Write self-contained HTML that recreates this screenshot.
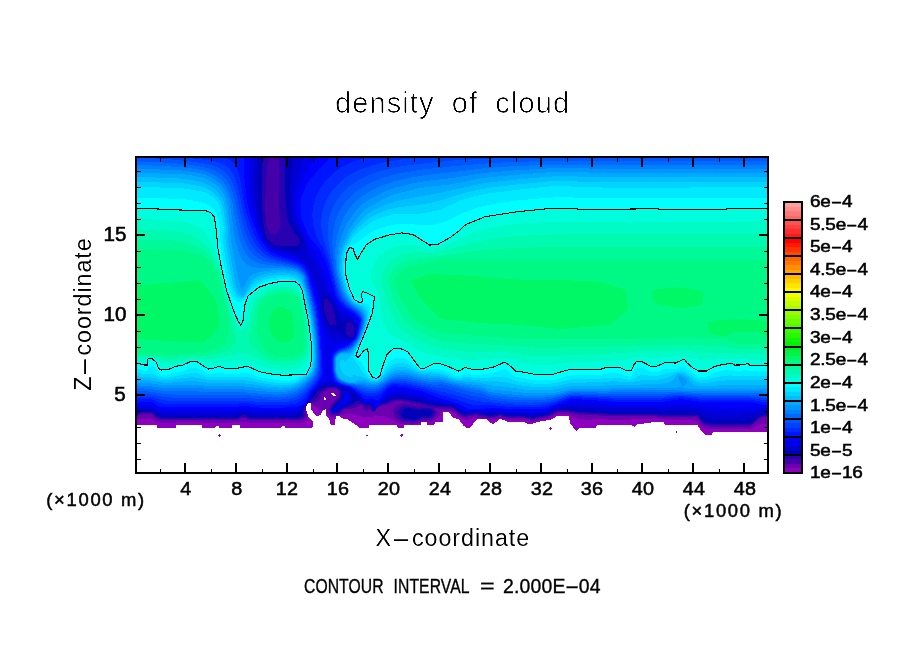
<!DOCTYPE html>
<html><head><meta charset="utf-8"><title>density of cloud</title>
<style>
html,body{margin:0;padding:0;background:#fff;}
body{width:904px;height:654px;position:relative;overflow:hidden;font-family:"Liberation Sans",sans-serif;color:#000;}
.t{position:absolute;white-space:nowrap;line-height:1;filter:grayscale(1) contrast(2.2);}
</style></head><body>
<svg width="904" height="654" viewBox="0 0 904 654" shape-rendering="crispEdges" style="position:absolute;left:0;top:0">
<g id="fld"><path fill="#8c00be" d="M136 157h632v236h-632zM334 393h434v1h-434zM136 393h195v1h-195zM335 394h433v1h-433zM136 394h196v1h-196zM336 395h432v1h-432zM136 395h197v1h-197zM136 396h632v1h-632zM325 397h443v1h-443zM136 397h188v3h-188zM326 398h442v2h-442zM136 400h632v3h-632zM136 403h172v1h-172zM136 404h171v2h-171zM311 403h457v6h-457zM311 409h14v1h-14zM136 406h170v5h-170zM312 410h11v1h-11zM326 409h442v3h-442zM313 411h9v2h-9zM449 412h319v1h-319zM136 411h171v3h-171zM450 413h318v1h-318zM314 413h7v1h-7zM315 414h6v1h-6zM326 412h117v4h-117zM451 414h317v2h-317zM316 415h3v1h-3zM136 414h172v3h-172zM327 416h9v1h-9zM340 416h103v1h-103zM452 416h104v1h-104zM328 417h8v1h-8zM136 417h173v1h-173zM341 417h102v1h-102zM453 417h102v1h-102zM343 418h100v1h-100zM136 418h174v1h-174zM329 418h7v1h-7zM456 418h97v1h-97zM569 416h199v4h-199zM348 419h95v1h-95zM502 419h49v1h-49zM487 419h12v1h-12zM459 419h18v1h-18zM136 419h175v1h-175zM329 419h6v1h-6zM460 420h16v1h-16zM136 420h176v1h-176zM488 420h10v1h-10zM349 420h94v1h-94zM505 420h41v1h-41zM570 420h198v2h-198zM489 421h8v1h-8zM507 421h33v1h-33zM460 421h15v1h-15zM351 421h92v1h-92zM490 422h5v1h-5zM570 422h81v1h-81zM461 422h13v1h-13zM352 422h69v1h-69zM525 422h11v1h-11zM330 420h5v4h-5zM427 422h8v2h-8zM664 422h104v2h-104zM462 423h11v1h-11zM570 423h74v1h-74zM492 423h2v1h-2zM527 423h6v1h-6zM354 423h67v1h-67zM136 421h177v4h-177zM355 424h66v1h-66zM331 424h4v1h-4zM427 424h7v1h-7zM571 424h66v1h-66zM463 424h10v1h-10zM665 424h103v1h-103zM572 425h25v1h-25zM240 425h73v1h-73zM202 425h30v1h-30zM632 425h4v1h-4zM357 425h12v1h-12zM463 425h9v1h-9zM397 425h7v2h-7zM698 425h70v2h-70zM465 426h6v1h-6zM285 426h28v1h-28zM202 426h14v1h-14zM634 426h1v1h-1zM240 426h42v1h-42zM358 426h11v1h-11zM157 425h19v3h-19zM219 426h13v2h-13zM573 426h23v2h-23zM359 427h10v1h-10zM240 427h41v1h-41zM466 427h4v1h-4zM699 427h69v1h-69zM285 427h27v1h-27zM398 427h6v1h-6zM202 427h13v1h-13zM574 428h5v1h-5zM700 428h68v2h-68zM575 429h3v1h-3zM576 430h1v1h-1zM701 430h67v1h-67zM702 431h66v1h-66zM703 432h10v1h-10zM704 433h8v1h-8zM705 434h7v1h-7z"/>
<path fill="#6c00b0" d="M136 157h632v236h-632zM334 393h434v1h-434zM136 393h195v1h-195zM335 394h433v1h-433zM136 394h196v1h-196zM336 395h432v1h-432zM136 395h197v1h-197zM136 396h632v1h-632zM325 397h443v1h-443zM136 397h188v3h-188zM326 398h442v2h-442zM136 400h632v3h-632zM136 403h172v1h-172zM311 403h457v1h-457zM312 404h456v1h-456zM136 404h171v2h-171zM313 405h455v1h-455zM315 406h453v1h-453zM316 407h452v1h-452zM318 408h450v1h-450zM319 409h6v1h-6zM136 406h170v5h-170zM326 409h442v2h-442zM326 411h116v1h-116zM452 411h316v1h-316zM453 412h315v1h-315zM326 412h115v1h-115zM136 411h171v3h-171zM327 413h113v1h-113zM455 413h313v1h-313zM355 414h85v1h-85zM328 414h17v1h-17zM456 414h101v1h-101zM569 414h199v1h-199zM329 415h11v1h-11zM457 415h97v1h-97zM571 415h197v1h-197zM359 415h81v1h-81zM136 414h172v3h-172zM573 416h195v1h-195zM385 416h54v1h-54zM330 416h6v1h-6zM362 416h11v1h-11zM459 416h94v1h-94zM387 417h51v1h-51zM575 417h193v1h-193zM460 417h91v1h-91zM136 417h171v2h-171zM502 418h46v1h-46zM462 418h10v1h-10zM578 418h190v1h-190zM481 418h17v1h-17zM389 418h48v1h-48zM465 419h3v1h-3zM152 419h155v1h-155zM608 419h23v1h-23zM136 419h2v1h-2zM584 419h8v1h-8zM665 419h103v1h-103zM391 419h45v1h-45zM506 419h37v1h-37zM487 419h7v1h-7zM693 420h75v1h-75zM393 420h41v1h-41zM154 420h152v1h-152zM525 420h13v1h-13zM156 421h149v1h-149zM530 421h4v1h-4zM697 421h71v1h-71zM395 421h37v1h-37zM698 422h70v1h-70zM160 422h15v1h-15zM247 422h55v1h-55zM203 422h28v1h-28zM397 422h24v1h-24zM699 423h67v1h-67zM399 423h19v1h-19zM410 424h3v1h-3zM700 424h61v1h-61zM701 425h57v1h-57zM702 426h54v1h-54zM703 427h51v1h-51zM706 428h46v1h-46z"/>
<path fill="#4600aa" d="M136 157h632v231h-632zM136 388h193v1h-193zM332 388h436v1h-436zM337 389h431v1h-431zM136 389h191v1h-191zM338 390h430v1h-430zM136 390h190v1h-190zM136 391h188v1h-188zM136 392h187v2h-187zM136 394h186v1h-186zM339 391h429v6h-429zM136 395h185v3h-185zM338 397h430v1h-430zM337 398h431v1h-431zM136 398h184v2h-184zM336 399h432v1h-432zM136 400h183v1h-183zM335 400h433v1h-433zM136 401h182v1h-182zM403 401h365v1h-365zM334 401h61v1h-61zM407 402h361v1h-361zM333 402h59v1h-59zM136 402h180v1h-180zM410 403h358v1h-358zM332 403h58v1h-58zM136 403h172v1h-172zM402 403h4v1h-4zM416 404h352v1h-352zM331 404h57v1h-57zM398 404h15v1h-15zM136 404h171v2h-171zM420 405h348v1h-348zM396 405h22v1h-22zM362 405h20v1h-20zM331 405h29v1h-29zM395 406h373v1h-373zM330 406h28v1h-28zM363 406h17v1h-17zM394 407h374v1h-374zM330 407h26v1h-26zM363 407h15v1h-15zM438 408h330v1h-330zM329 408h23v1h-23zM363 408h14v1h-14zM136 406h170v4h-170zM394 408h41v2h-41zM364 409h5v1h-5zM370 409h6v1h-6zM453 409h315v1h-315zM329 409h15v1h-15zM393 410h43v1h-43zM454 410h314v1h-314zM365 410h3v1h-3zM371 410h5v1h-5zM329 410h14v2h-14zM456 411h312v1h-312zM372 411h3v1h-3zM393 411h44v1h-44zM136 410h169v3h-169zM330 412h12v1h-12zM457 412h100v1h-100zM570 412h198v1h-198zM394 412h43v2h-43zM573 413h195v1h-195zM136 413h170v1h-170zM458 413h97v1h-97zM330 413h10v1h-10zM394 414h42v1h-42zM152 414h154v1h-154zM578 414h190v1h-190zM331 414h7v1h-7zM136 414h5v1h-5zM459 414h94v1h-94zM395 415h41v1h-41zM461 415h13v1h-13zM477 415h74v1h-74zM136 415h3v1h-3zM153 415h153v1h-153zM599 415h169v1h-169zM395 416h40v1h-40zM154 416h152v1h-152zM502 416h46v1h-46zM657 416h111v1h-111zM481 416h17v1h-17zM462 416h6v1h-6zM487 417h6v1h-6zM697 417h66v1h-66zM155 417h151v1h-151zM505 417h39v1h-39zM396 417h38v1h-38zM397 418h36v1h-36zM246 418h58v1h-58zM699 418h62v1h-62zM156 418h85v1h-85zM525 418h14v1h-14zM248 419h53v1h-53zM699 419h60v1h-60zM159 419h80v1h-80zM530 419h5v1h-5zM398 419h33v1h-33zM700 420h58v1h-58zM400 420h21v1h-21zM700 421h57v1h-57zM402 421h16v1h-16zM410 422h3v1h-3zM701 422h54v1h-54zM702 423h52v1h-52zM703 424h50v1h-50zM705 425h47v1h-47zM710 426h40v1h-40z"/>
<path fill="#2800b2" d="M278 157h490v1h-490zM136 157h132v8h-132zM136 165h131v14h-131zM136 179h130v16h-130zM136 195h129v18h-129zM279 158h489v57h-489zM136 213h130v13h-130zM280 215h488v13h-488zM136 226h131v2h-131zM279 228h489v2h-489zM136 228h132v3h-132zM278 230h490v2h-490zM136 231h133v2h-133zM277 232h491v1h-491zM276 233h492v1h-492zM136 233h135v1h-135zM136 234h632v154h-632zM136 388h190v1h-190zM336 388h432v1h-432zM136 389h188v1h-188zM339 389h429v1h-429zM136 390h187v1h-187zM136 391h185v1h-185zM136 392h184v2h-184zM136 394h183v1h-183zM136 395h182v2h-182zM340 390h428v8h-428zM136 397h181v1h-181zM339 398h429v1h-429zM136 398h180v1h-180zM338 399h430v1h-430zM136 399h179v1h-179zM405 400h363v1h-363zM136 400h178v1h-178zM337 400h57v1h-57zM136 401h176v1h-176zM409 401h359v1h-359zM336 401h55v1h-55zM335 402h54v1h-54zM414 402h354v1h-354zM136 402h174v1h-174zM334 403h52v1h-52zM136 403h172v1h-172zM420 403h348v1h-348zM333 404h23v1h-23zM364 404h18v1h-18zM424 404h344v1h-344zM136 404h171v2h-171zM428 405h340v1h-340zM365 405h15v1h-15zM332 405h22v1h-22zM136 406h170v1h-170zM332 406h19v1h-19zM403 406h8v1h-8zM370 406h9v1h-9zM365 406h4v1h-4zM434 406h334v1h-334zM401 407h15v1h-15zM371 407h6v1h-6zM331 407h17v1h-17zM445 407h323v1h-323zM365 407h3v1h-3zM136 407h169v2h-169zM453 408h315v1h-315zM400 408h31v1h-31zM331 408h13v1h-13zM371 408h5v2h-5zM330 409h12v1h-12zM455 409h313v1h-313zM399 409h34v1h-34zM399 410h35v1h-35zM456 410h312v1h-312zM372 410h3v1h-3zM330 410h11v2h-11zM398 411h36v1h-36zM570 411h198v1h-198zM457 411h99v1h-99zM136 409h168v4h-168zM458 412h96v1h-96zM331 412h8v1h-8zM575 412h193v1h-193zM398 412h37v2h-37zM584 413h184v1h-184zM136 413h4v1h-4zM460 413h93v1h-93zM332 413h5v1h-5zM152 413h152v1h-152zM478 414h73v1h-73zM399 414h35v1h-35zM136 414h2v1h-2zM461 414h12v1h-12zM603 414h165v1h-165zM154 414h151v1h-151zM502 415h46v1h-46zM463 415h4v1h-4zM658 415h110v1h-110zM483 415h15v1h-15zM399 415h34v1h-34zM155 415h150v1h-150zM156 416h149v1h-149zM488 416h5v1h-5zM505 416h39v1h-39zM400 416h32v1h-32zM698 416h64v1h-64zM699 417h61v1h-61zM247 417h56v1h-56zM157 417h83v1h-83zM400 417h31v1h-31zM525 417h14v1h-14zM401 418h21v1h-21zM248 418h52v1h-52zM700 418h59v1h-59zM530 418h5v1h-5zM160 418h79v1h-79zM700 419h57v1h-57zM403 419h17v1h-17zM406 420h11v1h-11zM701 420h55v1h-55zM701 421h54v1h-54zM702 422h52v1h-52zM704 423h49v1h-49zM708 424h43v1h-43z"/>
<path fill="#0000b9" d="M285 157h483v46h-483zM286 203h482v9h-482zM136 157h126v56h-126zM287 212h481v6h-481zM288 218h480v4h-480zM136 213h127v10h-127zM289 222h479v2h-479zM290 224h478v2h-478zM291 226h477v2h-477zM136 223h128v6h-128zM292 228h476v2h-476zM293 230h475v2h-475zM294 232h474v1h-474zM136 229h129v5h-129zM295 233h473v1h-473zM296 234h472v1h-472zM297 235h471v1h-471zM136 234h130v3h-130zM298 236h470v2h-470zM136 237h131v2h-131zM136 239h132v1h-132zM136 240h133v1h-133zM299 238h469v4h-469zM136 241h134v1h-134zM300 242h468v1h-468zM136 242h135v1h-135zM136 243h136v1h-136zM299 243h469v1h-469zM136 244h138v1h-138zM298 244h470v1h-470zM136 245h142v1h-142zM297 245h471v1h-471zM136 246h632v53h-632zM328 299h440v2h-440zM329 301h439v1h-439zM330 302h438v1h-438zM331 303h437v2h-437zM332 305h436v3h-436zM136 299h188v12h-188zM333 308h435v3h-435zM334 311h434v3h-434zM136 311h189v3h-189zM136 314h190v3h-190zM136 317h191v3h-191zM335 314h433v7h-433zM136 320h192v2h-192zM336 321h432v1h-432zM351 322h417v1h-417zM336 322h12v1h-12zM136 322h193v2h-193zM352 323h416v1h-416zM336 323h10v2h-10zM136 324h194v1h-194zM353 324h415v2h-415zM136 325h210v10h-210zM354 326h414v10h-414zM136 335h212v1h-212zM353 336h415v1h-415zM136 336h213v1h-213zM136 337h632v50h-632zM136 387h189v1h-189zM336 387h432v1h-432zM340 388h428v1h-428zM136 388h186v1h-186zM136 389h184v1h-184zM136 390h183v1h-183zM136 391h182v1h-182zM136 392h181v1h-181zM136 393h180v1h-180zM136 394h179v2h-179zM136 396h178v1h-178zM341 389h427v9h-427zM136 397h177v2h-177zM340 398h428v1h-428zM136 399h176v1h-176zM405 399h363v1h-363zM340 399h53v1h-53zM136 400h175v1h-175zM410 400h358v1h-358zM339 400h52v1h-52zM360 401h28v1h-28zM338 401h18v1h-18zM416 401h352v1h-352zM136 401h174v1h-174zM361 402h24v1h-24zM337 402h17v1h-17zM422 402h346v1h-346zM136 402h173v1h-173zM336 403h17v1h-17zM363 403h19v1h-19zM136 403h172v1h-172zM426 403h342v1h-342zM136 404h171v1h-171zM370 404h10v1h-10zM366 404h1v1h-1zM335 404h16v1h-16zM429 404h339v1h-339zM136 405h170v1h-170zM371 405h8v1h-8zM334 405h15v1h-15zM436 405h332v1h-332zM371 406h7v1h-7zM452 406h316v1h-316zM333 406h14v1h-14zM136 406h169v1h-169zM332 407h12v1h-12zM454 407h314v1h-314zM372 407h4v2h-4zM136 407h168v2h-168zM332 408h10v1h-10zM405 408h7v1h-7zM455 408h313v1h-313zM456 409h312v1h-312zM331 409h10v1h-10zM403 409h14v1h-14zM372 409h3v1h-3zM421 409h10v1h-10zM402 410h30v1h-30zM373 410h1v1h-1zM570 410h198v1h-198zM457 410h99v1h-99zM331 410h9v1h-9zM136 409h167v3h-167zM458 411h96v1h-96zM331 411h7v1h-7zM576 411h192v1h-192zM136 412h4v1h-4zM460 412h93v1h-93zM590 412h178v1h-178zM153 412h149v1h-149zM332 412h4v1h-4zM401 411h32v3h-32zM479 413h72v1h-72zM154 413h149v1h-149zM136 413h2v1h-2zM461 413h12v1h-12zM608 413h160v1h-160zM401 414h31v1h-31zM502 414h46v1h-46zM463 414h4v1h-4zM155 414h148v1h-148zM659 414h106v1h-106zM485 414h13v1h-13zM489 415h4v1h-4zM699 415h63v1h-63zM505 415h39v1h-39zM246 415h57v1h-57zM402 415h29v1h-29zM156 415h85v1h-85zM700 416h60v1h-60zM402 416h21v1h-21zM158 416h82v1h-82zM426 416h3v1h-3zM247 416h55v1h-55zM525 416h14v1h-14zM249 417h50v1h-50zM530 417h5v1h-5zM403 417h17v1h-17zM160 417h78v1h-78zM700 417h58v1h-58zM701 418h56v1h-56zM404 418h14v1h-14zM701 419h55v1h-55zM410 419h5v1h-5zM702 420h53v1h-53zM703 421h50v1h-50zM705 422h47v1h-47zM710 423h40v1h-40z"/>
<path fill="#0000d0" d="M298 157h470v2h-470zM290 157h5v2h-5zM291 159h477v1h-477zM136 157h122v9h-122zM292 160h476v13h-476zM291 173h477v12h-477zM136 166h121v22h-121zM136 188h122v19h-122zM290 185h478v27h-478zM136 207h123v7h-123zM291 212h477v5h-477zM136 214h124v7h-124zM292 217h476v4h-476zM293 221h475v2h-475zM294 223h474v2h-474zM136 221h125v5h-125zM295 225h473v2h-473zM296 227h472v2h-472zM136 226h126v4h-126zM297 229h471v2h-471zM298 231h470v1h-470zM299 232h469v1h-469zM136 230h127v4h-127zM300 233h468v2h-468zM301 235h467v1h-467zM136 234h128v4h-128zM302 236h466v3h-466zM136 238h129v2h-129zM136 240h130v1h-130zM136 241h131v1h-131zM303 239h465v4h-465zM136 242h132v1h-132zM136 243h133v1h-133zM304 243h464v1h-464zM136 244h134v1h-134zM136 245h135v1h-135zM136 246h136v1h-136zM303 244h465v4h-465zM136 247h139v1h-139zM136 248h142v1h-142zM302 248h466v2h-466zM136 249h147v1h-147zM136 250h154v1h-154zM301 250h467v1h-467zM136 251h160v1h-160zM300 251h468v1h-468zM136 252h632v43h-632zM326 295h442v1h-442zM136 295h187v2h-187zM328 296h440v1h-440zM329 297h439v1h-439zM330 298h438v2h-438zM331 300h437v1h-437zM332 301h436v1h-436zM333 302h435v2h-435zM334 304h434v2h-434zM335 306h433v3h-433zM136 297h186v14h-186zM336 309h432v2h-432zM337 311h431v2h-431zM136 311h187v4h-187zM338 313h430v2h-430zM136 315h188v3h-188zM339 315h429v4h-429zM340 319h428v1h-428zM136 318h189v3h-189zM351 320h417v1h-417zM341 320h3v1h-3zM352 321h416v1h-416zM136 321h190v2h-190zM353 322h415v1h-415zM354 323h414v1h-414zM136 323h191v2h-191zM355 324h413v3h-413zM136 325h192v2h-192zM136 327h193v1h-193zM136 328h195v1h-195zM136 329h197v1h-197zM356 327h412v4h-412zM136 330h200v1h-200zM136 331h203v1h-203zM136 332h205v2h-205zM136 334h206v1h-206zM355 331h413v5h-413zM136 335h207v1h-207zM136 336h209v1h-209zM354 336h414v1h-414zM136 337h210v1h-210zM353 337h415v1h-415zM351 338h417v1h-417zM136 338h213v1h-213zM136 339h632v46h-632zM332 385h436v1h-436zM136 385h189v1h-189zM336 386h432v1h-432zM136 386h186v1h-186zM342 387h426v1h-426zM136 387h183v1h-183zM136 388h182v1h-182zM344 388h424v1h-424zM136 389h181v1h-181zM347 389h421v1h-421zM350 390h418v1h-418zM343 390h5v1h-5zM136 390h180v1h-180zM351 391h417v1h-417zM136 391h179v1h-179zM342 391h8v1h-8zM353 392h415v1h-415zM136 392h178v2h-178zM342 392h9v2h-9zM354 393h414v1h-414zM342 394h10v1h-10zM136 394h177v1h-177zM355 394h413v1h-413zM356 395h412v1h-412zM136 395h176v2h-176zM358 396h410v1h-410zM359 397h34v1h-34zM406 397h362v1h-362zM342 395h11v4h-11zM410 398h358v1h-358zM359 398h32v1h-32zM136 397h175v3h-175zM360 399h28v1h-28zM417 399h351v1h-351zM341 399h11v2h-11zM361 400h25v1h-25zM422 400h346v1h-346zM136 400h174v1h-174zM362 401h22v1h-22zM340 401h11v1h-11zM136 401h172v1h-172zM426 401h342v1h-342zM429 402h339v1h-339zM363 402h19v1h-19zM339 402h11v1h-11zM136 402h171v2h-171zM338 403h11v1h-11zM435 403h333v1h-333zM365 403h3v1h-3zM370 403h11v1h-11zM136 404h170v1h-170zM441 404h327v1h-327zM371 404h8v1h-8zM337 404h11v1h-11zM336 405h11v1h-11zM453 405h315v1h-315zM372 405h6v1h-6zM136 405h169v1h-169zM335 406h10v1h-10zM454 406h314v1h-314zM372 406h5v1h-5zM136 406h168v1h-168zM456 407h312v1h-312zM334 407h8v1h-8zM372 407h4v1h-4zM136 407h167v2h-167zM333 408h8v1h-8zM570 408h198v1h-198zM373 408h2v1h-2zM457 408h105v1h-105zM332 409h7v1h-7zM373 409h1v1h-1zM578 409h190v1h-190zM136 409h166v1h-166zM458 409h97v1h-97zM136 410h4v1h-4zM332 410h6v1h-6zM152 410h149v1h-149zM593 410h175v1h-175zM459 410h94v1h-94zM610 411h158v1h-158zM461 411h91v1h-91zM332 411h4v1h-4zM154 411h147v1h-147zM663 412h5v1h-5zM479 412h71v1h-71zM690 412h76v1h-76zM462 412h11v1h-11zM155 412h145v1h-145zM157 413h85v1h-85zM699 413h63v1h-63zM245 413h54v1h-54zM487 413h8v1h-8zM503 413h43v1h-43zM508 414h34v1h-34zM159 414h80v1h-80zM701 414h58v1h-58zM248 414h50v1h-50zM702 415h55v1h-55zM162 415h75v1h-75zM251 415h45v1h-45zM529 415h7v1h-7zM704 416h51v1h-51zM705 417h48v1h-48zM708 418h43v1h-43zM712 419h36v1h-36z"/>
<path fill="#0000e8" d="M136 157h119v1h-119zM303 157h465v4h-465zM136 158h118v6h-118zM302 161h466v3h-466zM301 164h467v3h-467zM300 167h468v3h-468zM299 170h469v3h-469zM298 173h470v4h-470zM297 177h471v4h-471zM296 181h472v4h-472zM136 164h117v24h-117zM295 185h473v6h-473zM136 188h118v14h-118zM136 202h119v7h-119zM136 209h120v5h-120zM294 191h474v24h-474zM136 214h121v5h-121zM295 215h473v5h-473zM136 219h122v4h-122zM296 220h472v3h-472zM297 223h471v2h-471zM136 223h123v3h-123zM298 225h470v2h-470zM299 227h469v2h-469zM136 226h124v4h-124zM300 229h468v1h-468zM301 230h467v2h-467zM136 230h125v3h-125zM302 232h466v2h-466zM136 233h126v3h-126zM303 234h465v2h-465zM304 236h464v2h-464zM136 236h127v3h-127zM136 239h128v1h-128zM305 238h463v3h-463zM136 240h129v2h-129zM136 242h130v1h-130zM136 243h131v1h-131zM306 241h462v4h-462zM136 244h132v1h-132zM136 245h133v1h-133zM136 246h134v1h-134zM136 247h135v1h-135zM136 248h137v1h-137zM307 245h461v5h-461zM136 249h139v1h-139zM136 250h142v1h-142zM136 251h145v1h-145zM308 250h460v3h-460zM136 252h150v1h-150zM136 253h154v1h-154zM136 254h158v1h-158zM309 253h459v3h-459zM136 255h160v1h-160zM136 256h161v1h-161zM310 256h458v2h-458zM136 257h163v1h-163zM136 258h164v1h-164zM311 258h457v1h-457zM136 259h165v1h-165zM312 259h456v2h-456zM136 260h166v1h-166zM136 261h167v1h-167zM313 261h455v2h-455zM136 262h168v1h-168zM314 263h454v1h-454zM136 263h169v1h-169zM136 264h170v1h-170zM315 264h453v2h-453zM136 265h171v1h-171zM136 266h172v2h-172zM316 266h452v2h-452zM136 268h173v2h-173zM317 268h451v2h-451zM318 270h450v1h-450zM136 270h174v2h-174zM319 271h449v2h-449zM136 272h175v1h-175zM136 273h176v2h-176zM320 273h448v3h-448zM136 275h177v2h-177zM321 276h447v2h-447zM136 277h178v3h-178zM322 278h446v3h-446zM136 280h179v2h-179zM323 281h445v2h-445zM136 282h180v3h-180zM324 283h444v3h-444zM136 285h181v3h-181zM325 286h443v2h-443zM326 288h442v2h-442zM136 288h182v3h-182zM327 290h441v2h-441zM328 292h440v1h-440zM329 293h439v1h-439zM136 291h183v4h-183zM330 294h438v2h-438zM331 296h437v1h-437zM332 297h436v2h-436zM333 299h435v1h-435zM334 300h434v2h-434zM335 302h433v2h-433zM336 304h432v1h-432zM337 305h431v2h-431zM136 295h184v14h-184zM338 307h430v2h-430zM339 309h429v1h-429zM340 310h428v2h-428zM341 312h427v1h-427zM136 309h185v5h-185zM342 313h426v1h-426zM343 314h425v1h-425zM345 315h423v1h-423zM347 316h421v1h-421zM136 314h186v4h-186zM349 317h419v1h-419zM352 318h416v1h-416zM353 319h415v1h-415zM354 320h414v1h-414zM136 318h187v4h-187zM355 321h413v2h-413zM136 322h188v3h-188zM356 323h412v3h-412zM136 325h189v2h-189zM357 326h411v3h-411zM136 327h190v2h-190zM136 329h191v2h-191zM136 331h192v1h-192zM136 332h193v2h-193zM356 329h412v7h-412zM136 334h194v2h-194zM355 336h413v1h-413zM136 336h195v2h-195zM354 337h414v1h-414zM353 338h415v1h-415zM136 338h196v1h-196zM351 339h417v1h-417zM136 339h206v1h-206zM136 340h632v41h-632zM329 381h439v1h-439zM136 381h191v1h-191zM330 382h438v1h-438zM136 382h189v1h-189zM136 383h187v1h-187zM332 383h436v1h-436zM335 384h433v1h-433zM136 384h186v1h-186zM337 385h431v1h-431zM136 385h184v1h-184zM342 386h426v1h-426zM136 386h183v1h-183zM136 387h181v1h-181zM345 387h423v1h-423zM349 388h419v1h-419zM136 388h180v2h-180zM351 389h417v1h-417zM136 390h179v1h-179zM352 390h416v1h-416zM353 391h415v1h-415zM136 391h178v1h-178zM136 392h177v1h-177zM343 392h4v1h-4zM355 392h413v1h-413zM356 393h412v1h-412zM343 393h5v1h-5zM136 393h176v2h-176zM357 394h36v1h-36zM407 394h361v1h-361zM343 394h6v1h-6zM344 395h5v1h-5zM358 395h33v1h-33zM412 395h356v1h-356zM136 395h175v2h-175zM417 396h351v1h-351zM359 396h30v1h-30zM360 397h27v1h-27zM422 397h346v1h-346zM344 396h6v3h-6zM136 397h174v2h-174zM361 398h25v1h-25zM425 398h343v1h-343zM343 399h7v1h-7zM428 399h340v1h-340zM136 399h173v1h-173zM361 399h23v1h-23zM362 400h21v1h-21zM432 400h336v1h-336zM136 400h172v1h-172zM343 400h6v1h-6zM363 401h19v1h-19zM342 401h7v1h-7zM436 401h332v1h-332zM136 401h171v2h-171zM341 402h7v1h-7zM364 402h4v1h-4zM440 402h328v1h-328zM370 402h11v1h-11zM372 403h8v1h-8zM136 403h170v1h-170zM340 403h7v1h-7zM447 403h321v1h-321zM453 404h315v1h-315zM373 404h6v1h-6zM339 404h7v1h-7zM136 404h169v1h-169zM373 405h5v1h-5zM338 405h7v1h-7zM455 405h313v1h-313zM136 405h168v1h-168zM336 406h7v1h-7zM136 406h167v1h-167zM456 406h107v1h-107zM373 406h3v1h-3zM588 406h180v1h-180zM604 407h164v1h-164zM136 407h166v1h-166zM335 407h6v1h-6zM458 407h100v1h-100zM373 407h2v1h-2zM334 408h5v1h-5zM459 408h96v1h-96zM657 408h12v1h-12zM691 408h77v1h-77zM152 408h149v1h-149zM333 409h5v1h-5zM461 409h91v1h-91zM699 409h69v1h-69zM155 409h145v1h-145zM463 410h87v1h-87zM157 410h142v1h-142zM333 410h3v1h-3zM703 410h59v1h-59zM706 411h50v1h-50zM247 411h50v1h-50zM480 411h68v1h-68zM159 411h82v1h-82zM466 411h6v1h-6zM162 412h74v1h-74zM251 412h43v1h-43zM710 412h41v1h-41zM506 412h38v1h-38zM718 413h25v1h-25zM529 413h7v1h-7z"/>
<path fill="#0000ff" d="M313 157h455v2h-455zM136 157h114v4h-114zM312 159h456v3h-456zM311 162h457v2h-457zM310 164h458v2h-458zM309 166h459v2h-459zM308 168h460v2h-460zM307 170h461v2h-461zM306 172h462v2h-462zM305 174h463v2h-463zM304 176h464v2h-464zM303 178h465v2h-465zM302 180h466v3h-466zM301 183h467v3h-467zM136 161h113v28h-113zM300 186h468v3h-468zM299 189h469v4h-469zM298 193h470v4h-470zM136 189h114v11h-114zM136 200h115v6h-115zM136 206h116v4h-116zM297 197h471v17h-471zM136 210h117v4h-117zM136 214h118v4h-118zM298 214h470v6h-470zM136 218h119v3h-119zM299 220h469v2h-469zM136 221h120v3h-120zM300 222h468v3h-468zM136 224h121v3h-121zM301 225h467v2h-467zM302 227h466v2h-466zM136 227h122v3h-122zM303 229h465v2h-465zM136 230h123v3h-123zM304 231h464v2h-464zM305 233h463v2h-463zM136 233h124v2h-124zM306 235h462v2h-462zM136 235h125v3h-125zM307 237h461v2h-461zM136 238h126v2h-126zM308 239h460v2h-460zM136 240h127v1h-127zM136 241h128v2h-128zM309 241h459v2h-459zM136 243h129v1h-129zM310 243h458v2h-458zM136 244h130v1h-130zM136 245h131v1h-131zM311 245h457v2h-457zM136 246h132v1h-132zM136 247h133v1h-133zM312 247h456v2h-456zM136 248h134v1h-134zM313 249h455v1h-455zM136 249h135v1h-135zM136 250h136v1h-136zM314 250h454v2h-454zM136 251h138v1h-138zM136 252h141v1h-141zM315 252h453v2h-453zM136 253h144v1h-144zM136 254h148v1h-148zM316 254h452v2h-452zM136 255h151v1h-151zM136 256h155v1h-155zM317 256h451v2h-451zM136 257h157v1h-157zM136 258h160v1h-160zM318 258h450v2h-450zM136 259h162v1h-162zM136 260h163v1h-163zM319 260h449v2h-449zM136 261h165v1h-165zM320 262h448v1h-448zM136 262h166v1h-166zM136 263h168v1h-168zM321 263h447v3h-447zM136 264h169v2h-169zM136 266h170v1h-170zM322 266h446v2h-446zM136 267h171v2h-171zM323 268h445v2h-445zM136 269h172v2h-172zM324 270h444v3h-444zM136 271h173v2h-173zM136 273h174v2h-174zM325 273h443v3h-443zM136 275h175v3h-175zM326 276h442v2h-442zM136 278h176v3h-176zM327 278h441v3h-441zM136 281h177v3h-177zM328 281h440v3h-440zM329 284h439v3h-439zM136 284h178v3h-178zM330 287h438v3h-438zM136 287h179v3h-179zM331 290h437v2h-437zM332 292h436v2h-436zM136 290h180v5h-180zM333 294h435v2h-435zM334 296h434v2h-434zM335 298h433v2h-433zM136 295h181v6h-181zM336 300h432v1h-432zM337 301h431v2h-431zM338 303h430v1h-430zM339 304h429v2h-429zM136 301h182v6h-182zM340 306h428v1h-428zM341 307h427v1h-427zM342 308h426v1h-426zM343 309h425v1h-425zM344 310h424v1h-424zM345 311h423v1h-423zM347 312h421v1h-421zM136 307h183v7h-183zM348 313h420v1h-420zM350 314h418v1h-418zM352 315h416v1h-416zM353 316h415v1h-415zM354 317h414v1h-414zM136 314h184v5h-184zM355 318h413v1h-413zM356 319h412v1h-412zM357 320h411v3h-411zM136 319h185v5h-185zM136 324h186v4h-186zM358 323h410v6h-410zM136 328h187v4h-187zM357 329h411v5h-411zM136 332h188v4h-188zM356 334h412v3h-412zM355 337h413v1h-413zM354 338h414v1h-414zM353 339h415v1h-415zM352 340h416v1h-416zM350 341h418v1h-418zM347 342h421v1h-421zM342 343h426v1h-426zM339 344h429v1h-429zM337 345h431v1h-431zM335 346h433v1h-433zM334 347h434v1h-434zM333 348h435v2h-435zM332 350h436v2h-436zM331 352h437v2h-437zM330 354h438v20h-438zM136 336h189v41h-189zM331 374h437v5h-437zM136 377h188v2h-188zM136 379h187v2h-187zM332 379h436v2h-436zM333 381h435v1h-435zM136 381h186v1h-186zM334 382h434v1h-434zM136 382h185v1h-185zM136 383h184v1h-184zM336 383h432v1h-432zM136 384h183v1h-183zM338 384h430v1h-430zM136 385h182v1h-182zM341 385h427v1h-427zM136 386h181v1h-181zM345 386h423v1h-423zM349 387h419v1h-419zM136 387h180v1h-180zM351 388h417v1h-417zM136 388h179v1h-179zM136 389h178v1h-178zM352 389h416v1h-416zM403 390h365v1h-365zM354 390h40v1h-40zM136 390h177v2h-177zM355 391h36v1h-36zM409 391h359v1h-359zM136 392h176v1h-176zM414 392h354v1h-354zM356 392h33v1h-33zM357 393h31v1h-31zM418 393h350v1h-350zM136 393h175v2h-175zM345 394h1v1h-1zM422 394h346v1h-346zM358 394h29v1h-29zM359 395h27v1h-27zM425 395h343v1h-343zM345 395h2v2h-2zM136 395h174v2h-174zM428 396h340v1h-340zM360 396h25v1h-25zM361 397h23v1h-23zM430 397h338v1h-338zM136 397h173v2h-173zM362 398h21v1h-21zM433 398h335v1h-335zM346 397h2v3h-2zM436 399h332v1h-332zM136 399h172v1h-172zM362 399h20v1h-20zM440 400h328v1h-328zM363 400h18v1h-18zM136 400h171v2h-171zM345 400h2v2h-2zM364 401h4v1h-4zM372 401h8v1h-8zM444 401h324v1h-324zM580 402h188v1h-188zM136 402h170v1h-170zM449 402h121v1h-121zM344 402h2v1h-2zM374 402h5v2h-5zM453 403h113v1h-113zM343 403h2v1h-2zM596 403h172v1h-172zM136 403h169v1h-169zM375 404h3v1h-3zM610 404h60v1h-60zM692 404h76v1h-76zM456 404h106v1h-106zM136 404h168v1h-168zM152 405h151v1h-151zM375 405h2v1h-2zM699 405h69v1h-69zM136 405h2v1h-2zM458 405h101v1h-101zM459 406h97v1h-97zM707 406h61v1h-61zM154 406h148v1h-148zM156 407h144v1h-144zM720 407h21v1h-21zM461 407h92v1h-92zM762 407h6v1h-6zM158 408h141v1h-141zM463 408h88v1h-88zM250 409h46v1h-46zM465 409h84v1h-84zM161 409h78v1h-78zM469 410h2v1h-2zM503 410h43v1h-43zM481 410h4v1h-4zM529 411h6v1h-6z"/>
<path fill="#0015ff" d="M330 157h438v1h-438zM329 158h439v1h-439zM328 159h440v2h-440zM327 161h441v1h-441zM326 162h442v1h-442zM325 163h443v1h-443zM324 164h444v1h-444zM323 165h445v1h-445zM322 166h446v1h-446zM321 167h447v1h-447zM320 168h448v1h-448zM319 169h449v1h-449zM318 170h450v1h-450zM317 171h451v1h-451zM316 172h452v1h-452zM315 173h453v2h-453zM314 175h454v1h-454zM313 176h455v1h-455zM312 177h456v1h-456zM136 157h108v22h-108zM311 178h457v1h-457zM310 179h458v2h-458zM309 181h459v1h-459zM308 182h460v1h-460zM307 183h461v2h-461zM306 185h462v2h-462zM136 179h109v9h-109zM305 187h463v3h-463zM304 190h464v3h-464zM303 193h465v2h-465zM136 188h110v10h-110zM302 195h466v3h-466zM136 198h111v6h-111zM136 204h112v4h-112zM136 208h113v4h-113zM136 212h114v3h-114zM301 198h467v20h-467zM136 215h115v3h-115zM302 218h466v3h-466zM136 218h116v3h-116zM303 221h465v2h-465zM136 221h117v2h-117zM304 223h464v3h-464zM136 223h118v3h-118zM136 226h119v2h-119zM305 226h463v2h-463zM306 228h462v2h-462zM136 228h120v3h-120zM307 230h461v3h-461zM136 231h121v3h-121zM308 233h460v2h-460zM136 234h122v2h-122zM309 235h459v2h-459zM136 236h123v2h-123zM310 237h458v2h-458zM136 238h124v2h-124zM311 239h457v1h-457zM312 240h456v1h-456zM136 240h125v1h-125zM313 241h455v1h-455zM136 241h126v2h-126zM314 242h454v1h-454zM315 243h453v1h-453zM136 243h127v1h-127zM316 244h452v2h-452zM136 244h128v2h-128zM136 246h129v1h-129zM317 246h451v1h-451zM136 247h130v1h-130zM318 247h450v1h-450zM136 248h131v1h-131zM319 248h449v1h-449zM136 249h132v1h-132zM320 249h448v2h-448zM136 250h133v1h-133zM136 251h134v1h-134zM321 251h447v2h-447zM136 252h136v1h-136zM136 253h137v1h-137zM322 253h446v2h-446zM136 254h140v1h-140zM136 255h143v1h-143zM323 255h445v2h-445zM136 256h146v1h-146zM136 257h149v1h-149zM324 257h444v2h-444zM136 258h152v1h-152zM136 259h155v1h-155zM325 259h443v2h-443zM136 260h158v1h-158zM136 261h161v1h-161zM326 261h442v2h-442zM136 262h163v1h-163zM136 263h165v1h-165zM136 264h167v1h-167zM136 265h168v1h-168zM327 263h441v4h-441zM136 266h169v2h-169zM328 267h440v3h-440zM136 268h170v2h-170zM136 270h171v2h-171zM329 270h439v4h-439zM136 272h172v3h-172zM330 274h438v3h-438zM136 275h173v2h-173zM136 277h174v4h-174zM331 277h437v4h-437zM136 281h175v3h-175zM332 281h436v4h-436zM136 284h176v4h-176zM333 285h435v4h-435zM136 288h177v4h-177zM334 289h434v3h-434zM335 292h433v4h-433zM136 292h178v4h-178zM336 296h432v2h-432zM136 296h179v4h-179zM337 298h431v2h-431zM338 300h430v1h-430zM339 301h429v1h-429zM340 302h428v1h-428zM136 300h180v5h-180zM341 303h427v2h-427zM342 305h426v1h-426zM343 306h425v1h-425zM344 307h424v1h-424zM346 308h422v1h-422zM136 305h181v5h-181zM347 309h421v1h-421zM349 310h419v1h-419zM350 311h418v1h-418zM352 312h416v1h-416zM354 313h414v1h-414zM355 314h413v1h-413zM356 315h412v1h-412zM136 310h182v7h-182zM357 316h411v1h-411zM358 317h410v1h-410zM359 318h409v2h-409zM360 320h408v2h-408zM136 317h183v8h-183zM359 322h409v6h-409zM358 328h410v5h-410zM136 325h184v10h-184zM357 333h411v3h-411zM356 336h412v2h-412zM355 338h413v1h-413zM354 339h414v1h-414zM353 340h415v1h-415zM352 341h416v1h-416zM351 342h417v1h-417zM350 343h418v1h-418zM348 344h420v1h-420zM346 345h422v1h-422zM344 346h424v1h-424zM342 347h426v1h-426zM136 335h185v14h-185zM339 348h429v1h-429zM338 349h430v1h-430zM336 350h432v1h-432zM335 351h433v1h-433zM334 352h434v1h-434zM333 353h435v2h-435zM136 349h186v19h-186zM332 355h436v18h-436zM136 368h187v7h-187zM136 375h186v2h-186zM333 373h435v6h-435zM136 377h185v2h-185zM334 379h434v2h-434zM136 379h184v2h-184zM335 381h433v1h-433zM136 381h183v2h-183zM337 382h431v1h-431zM136 383h182v1h-182zM339 383h429v1h-429zM136 384h181v1h-181zM341 384h427v1h-427zM344 385h424v1h-424zM136 385h180v1h-180zM397 386h371v1h-371zM348 386h44v1h-44zM136 386h179v1h-179zM351 387h39v1h-39zM406 387h362v1h-362zM136 387h178v2h-178zM352 388h36v1h-36zM410 388h358v1h-358zM415 389h353v1h-353zM136 389h177v1h-177zM354 389h33v1h-33zM136 390h176v1h-176zM419 390h349v1h-349zM355 390h31v1h-31zM136 391h175v1h-175zM356 391h30v1h-30zM423 391h345v1h-345zM358 392h27v1h-27zM425 392h343v1h-343zM136 392h174v2h-174zM428 393h340v1h-340zM359 393h25v1h-25zM360 394h23v1h-23zM430 394h338v1h-338zM136 394h173v2h-173zM433 395h335v1h-335zM361 395h21v1h-21zM435 396h333v1h-333zM362 396h20v1h-20zM136 396h172v2h-172zM438 397h330v1h-330zM363 397h18v1h-18zM364 398h16v1h-16zM441 398h327v1h-327zM136 398h171v2h-171zM445 399h124v1h-124zM582 399h96v1h-96zM375 399h4v1h-4zM684 399h84v1h-84zM598 400h73v1h-73zM449 400h118v1h-118zM136 400h170v1h-170zM691 400h77v1h-77zM377 400h1v1h-1zM611 401h54v1h-54zM698 401h70v1h-70zM452 401h112v1h-112zM136 401h169v1h-169zM455 402h107v1h-107zM153 402h152v1h-152zM136 402h3v1h-3zM753 402h15v1h-15zM154 403h150v1h-150zM758 403h10v1h-10zM458 403h101v1h-101zM460 404h97v1h-97zM156 404h146v1h-146zM762 404h6v1h-6zM462 405h92v1h-92zM157 405h144v1h-144zM249 406h49v1h-49zM464 406h88v1h-88zM160 406h79v1h-79zM466 407h83v1h-83zM260 407h25v1h-25zM468 408h17v1h-17zM503 408h43v1h-43z"/>
<path fill="#002aff" d="M367 157h401v1h-401zM136 157h90v1h-90zM136 158h91v1h-91zM364 158h404v1h-404zM136 159h93v1h-93zM360 159h408v1h-408zM357 160h411v1h-411zM136 160h95v1h-95zM354 161h414v1h-414zM136 161h96v1h-96zM136 162h97v1h-97zM351 162h417v1h-417zM136 163h98v1h-98zM349 163h419v1h-419zM347 164h421v1h-421zM136 164h99v2h-99zM345 165h423v1h-423zM343 166h425v1h-425zM136 166h100v2h-100zM341 167h427v1h-427zM340 168h428v1h-428zM136 168h101v2h-101zM338 169h430v1h-430zM337 170h431v1h-431zM335 171h433v1h-433zM136 170h102v3h-102zM334 172h434v1h-434zM333 173h435v1h-435zM332 174h436v1h-436zM331 175h437v1h-437zM136 173h103v4h-103zM330 176h438v1h-438zM329 177h439v1h-439zM328 178h440v1h-440zM327 179h441v1h-441zM326 180h442v1h-442zM136 177h104v5h-104zM325 181h443v2h-443zM324 183h444v1h-444zM323 184h445v1h-445zM136 182h105v5h-105zM322 185h446v2h-446zM321 187h447v1h-447zM320 188h448v2h-448zM319 190h449v2h-449zM136 187h106v7h-106zM318 192h450v2h-450zM317 194h451v2h-451zM316 196h452v2h-452zM136 194h107v6h-107zM315 198h453v3h-453zM136 200h108v5h-108zM314 201h454v4h-454zM136 205h109v4h-109zM313 205h455v8h-455zM136 209h110v4h-110zM136 213h111v3h-111zM312 213h456v4h-456zM136 216h112v3h-112zM136 219h113v3h-113zM313 217h455v8h-455zM136 222h114v3h-114zM136 225h115v3h-115zM314 225h454v5h-454zM136 228h116v2h-116zM315 230h453v3h-453zM136 230h117v3h-117zM136 233h118v2h-118zM316 233h452v3h-452zM136 235h119v2h-119zM317 236h451v2h-451zM136 237h120v2h-120zM318 238h450v2h-450zM136 239h121v2h-121zM319 240h449v2h-449zM136 241h122v1h-122zM320 242h448v2h-448zM136 242h123v2h-123zM321 244h447v1h-447zM136 244h124v1h-124zM136 245h125v2h-125zM322 245h446v2h-446zM136 247h126v1h-126zM323 247h445v2h-445zM136 248h127v1h-127zM136 249h128v1h-128zM136 250h129v1h-129zM324 249h444v3h-444zM136 251h130v1h-130zM136 252h132v1h-132zM325 252h443v2h-443zM136 253h133v1h-133zM136 254h134v1h-134zM136 255h136v1h-136zM326 254h442v3h-442zM136 256h139v1h-139zM136 257h142v1h-142zM327 257h441v2h-441zM136 258h145v1h-145zM136 259h149v1h-149zM136 260h152v1h-152zM328 259h440v3h-440zM136 261h155v1h-155zM136 262h158v1h-158zM136 263h161v1h-161zM136 264h163v1h-163zM329 262h439v4h-439zM136 265h165v1h-165zM136 266h166v1h-166zM136 267h167v1h-167zM136 268h168v1h-168zM330 266h438v4h-438zM136 269h169v2h-169zM136 271h170v2h-170zM331 270h437v4h-437zM136 273h171v2h-171zM332 274h436v3h-436zM136 275h172v3h-172zM333 277h435v4h-435zM136 278h173v4h-173zM334 281h434v4h-434zM136 282h174v4h-174zM335 285h433v4h-433zM136 286h175v4h-175zM336 289h432v4h-432zM136 290h176v4h-176zM337 293h431v3h-431zM136 294h177v4h-177zM338 296h430v2h-430zM339 298h429v1h-429zM340 299h428v2h-428zM136 298h178v4h-178zM341 301h427v1h-427zM342 302h426v1h-426zM343 303h425v1h-425zM344 304h424v1h-424zM136 302h179v4h-179zM345 305h423v1h-423zM346 306h422v1h-422zM347 307h421v1h-421zM349 308h419v1h-419zM350 309h418v1h-418zM136 306h180v5h-180zM352 310h416v1h-416zM353 311h415v1h-415zM355 312h413v1h-413zM356 313h412v1h-412zM357 314h411v1h-411zM358 315h410v1h-410zM136 311h181v7h-181zM359 316h409v2h-409zM360 318h408v1h-408zM361 319h407v3h-407zM136 318h182v9h-182zM360 322h408v5h-408zM359 327h409v4h-409zM358 331h410v4h-410zM136 327h183v9h-183zM357 335h411v3h-411zM356 338h412v1h-412zM355 339h413v1h-413zM354 340h414v1h-414zM353 341h415v1h-415zM352 342h416v1h-416zM351 343h417v1h-417zM350 344h418v1h-418zM349 345h419v1h-419zM347 346h421v1h-421zM345 347h423v1h-423zM343 348h425v1h-425zM136 336h184v14h-184zM340 349h428v1h-428zM338 350h430v1h-430zM337 351h431v1h-431zM336 352h432v1h-432zM335 353h433v1h-433zM334 354h434v1h-434zM333 355h435v19h-435zM136 350h185v25h-185zM136 375h184v2h-184zM334 374h434v4h-434zM136 377h183v2h-183zM335 378h433v2h-433zM136 379h182v2h-182zM336 380h432v1h-432zM136 381h181v1h-181zM337 381h431v1h-431zM338 382h430v1h-430zM136 382h180v2h-180zM340 383h428v1h-428zM399 384h369v1h-369zM343 384h49v1h-49zM136 384h179v1h-179zM407 385h361v1h-361zM346 385h44v1h-44zM136 385h178v1h-178zM350 386h38v1h-38zM136 386h177v1h-177zM412 386h356v1h-356zM353 387h34v1h-34zM416 387h352v1h-352zM136 387h176v2h-176zM354 388h32v1h-32zM420 388h348v1h-348zM136 389h175v1h-175zM356 389h29v1h-29zM424 389h344v1h-344zM357 390h27v1h-27zM427 390h341v1h-341zM136 390h174v1h-174zM430 391h338v1h-338zM136 391h173v1h-173zM359 391h24v1h-24zM360 392h22v1h-22zM433 392h335v1h-335zM136 392h172v2h-172zM362 393h19v1h-19zM436 393h332v1h-332zM136 394h171v1h-171zM363 394h16v1h-16zM439 394h329v1h-329zM443 395h325v1h-325zM366 395h11v1h-11zM136 395h170v2h-170zM447 396h321v1h-321zM581 397h97v1h-97zM450 397h120v1h-120zM684 397h84v1h-84zM136 397h169v1h-169zM598 398h73v1h-73zM453 398h114v1h-114zM692 398h76v1h-76zM136 398h168v1h-168zM457 399h108v1h-108zM152 399h151v1h-151zM699 399h69v1h-69zM136 399h2v1h-2zM613 399h49v1h-49zM755 400h13v1h-13zM155 400h147v1h-147zM459 400h103v1h-103zM462 401h97v1h-97zM157 401h143v1h-143zM760 401h8v1h-8zM159 402h139v1h-139zM766 402h2v1h-2zM465 402h92v1h-92zM163 403h76v1h-76zM468 403h86v1h-86zM249 403h47v1h-47zM472 404h79v1h-79zM255 404h34v1h-34zM496 405h52v1h-52zM505 406h40v1h-40z"/>
<path fill="#0040ff" d="M136 157h53v1h-53zM416 157h352v1h-352zM136 158h58v1h-58zM410 158h358v1h-358zM136 159h66v1h-66zM401 159h367v1h-367zM136 160h74v1h-74zM395 160h373v1h-373zM389 161h379v1h-379zM136 161h79v1h-79zM384 162h384v1h-384zM136 162h83v1h-83zM136 163h85v1h-85zM380 163h388v1h-388zM136 164h87v1h-87zM376 164h392v1h-392zM372 165h396v1h-396zM136 165h89v1h-89zM136 166h91v1h-91zM369 166h399v1h-399zM136 167h92v1h-92zM366 167h402v1h-402zM136 168h93v1h-93zM363 168h405v1h-405zM136 169h94v1h-94zM360 169h408v1h-408zM358 170h410v1h-410zM136 170h95v2h-95zM356 171h412v1h-412zM354 172h414v1h-414zM136 172h96v1h-96zM352 173h416v1h-416zM136 173h97v2h-97zM350 174h418v1h-418zM349 175h419v1h-419zM136 175h98v2h-98zM347 176h421v1h-421zM346 177h422v1h-422zM344 178h424v1h-424zM136 177h99v3h-99zM343 179h425v1h-425zM342 180h426v1h-426zM341 181h427v1h-427zM136 180h100v3h-100zM340 182h428v1h-428zM339 183h429v1h-429zM338 184h430v1h-430zM136 183h101v3h-101zM337 185h431v1h-431zM336 186h432v1h-432zM335 187h433v1h-433zM334 188h434v1h-434zM136 186h102v4h-102zM333 189h435v1h-435zM332 190h436v2h-436zM331 192h437v1h-437zM136 190h103v5h-103zM330 193h438v2h-438zM329 195h439v1h-439zM328 196h440v2h-440zM136 195h104v4h-104zM327 198h441v2h-441zM326 200h442v2h-442zM136 199h105v5h-105zM325 202h443v3h-443zM324 205h444v3h-444zM136 204h106v5h-106zM323 208h445v4h-445zM136 209h107v4h-107zM136 213h108v4h-108zM322 212h446v6h-446zM136 217h109v3h-109zM136 220h110v4h-110zM136 224h111v3h-111zM321 218h447v10h-447zM136 227h112v3h-112zM136 230h113v2h-113zM322 228h446v7h-446zM136 232h114v3h-114zM136 235h115v2h-115zM323 235h445v4h-445zM136 237h116v2h-116zM136 239h117v2h-117zM324 239h444v3h-444zM136 241h118v2h-118zM136 243h119v1h-119zM325 242h443v3h-443zM136 244h120v2h-120zM136 246h121v1h-121zM136 247h122v1h-122zM326 245h442v4h-442zM136 248h123v1h-123zM136 249h124v1h-124zM136 250h125v1h-125zM327 249h441v3h-441zM136 251h126v1h-126zM136 252h127v1h-127zM136 253h128v1h-128zM328 252h440v3h-440zM136 254h130v1h-130zM136 255h131v1h-131zM136 256h133v1h-133zM136 257h135v1h-135zM329 255h439v4h-439zM136 258h138v1h-138zM136 259h141v1h-141zM136 260h145v1h-145zM136 261h149v1h-149zM330 259h438v4h-438zM136 262h153v1h-153zM136 263h156v1h-156zM136 264h159v1h-159zM136 265h162v1h-162zM136 266h164v1h-164zM331 263h437v5h-437zM136 267h165v1h-165zM136 268h166v1h-166zM136 269h167v1h-167zM136 270h168v1h-168zM332 268h436v4h-436zM136 271h169v2h-169zM136 273h170v2h-170zM333 272h435v4h-435zM136 275h171v3h-171zM334 276h434v4h-434zM136 278h172v4h-172zM335 280h433v4h-433zM136 282h173v4h-173zM336 284h432v4h-432zM136 286h174v4h-174zM337 288h431v3h-431zM136 290h175v4h-175zM338 291h430v3h-430zM339 294h429v2h-429zM136 294h176v4h-176zM340 296h428v2h-428zM341 298h427v2h-427zM342 300h426v1h-426zM136 298h177v4h-177zM343 301h425v1h-425zM344 302h424v2h-424zM345 304h423v1h-423zM136 302h178v4h-178zM347 305h421v1h-421zM348 306h420v1h-420zM349 307h419v1h-419zM351 308h417v1h-417zM352 309h416v1h-416zM136 306h179v5h-179zM354 310h414v1h-414zM355 311h413v1h-413zM356 312h412v1h-412zM357 313h411v1h-411zM358 314h410v1h-410zM359 315h409v1h-409zM360 316h408v1h-408zM136 311h180v7h-180zM361 317h407v3h-407zM362 320h406v1h-406zM136 318h181v8h-181zM361 321h407v6h-407zM360 327h408v3h-408zM359 330h409v4h-409zM136 326h182v10h-182zM358 334h410v3h-410zM357 337h411v2h-411zM356 339h412v1h-412zM355 340h413v1h-413zM354 341h414v1h-414zM353 342h415v1h-415zM352 343h416v2h-416zM350 345h418v1h-418zM349 346h419v1h-419zM347 347h421v1h-421zM345 348h423v1h-423zM136 336h183v14h-183zM342 349h426v1h-426zM340 350h428v1h-428zM338 351h430v1h-430zM337 352h431v1h-431zM336 353h432v1h-432zM335 354h433v1h-433zM334 355h434v3h-434zM333 358h435v13h-435zM136 350h184v22h-184zM334 371h434v4h-434zM136 372h183v4h-183zM335 375h433v3h-433zM136 376h182v2h-182zM136 378h181v2h-181zM336 378h432v2h-432zM337 380h431v1h-431zM136 380h180v1h-180zM338 381h430v1h-430zM136 381h179v1h-179zM340 382h428v1h-428zM136 382h178v2h-178zM407 383h361v1h-361zM342 383h49v1h-49zM136 384h177v1h-177zM345 384h44v1h-44zM412 384h356v1h-356zM349 385h38v1h-38zM136 385h176v1h-176zM417 385h351v1h-351zM136 386h175v1h-175zM421 386h347v1h-347zM352 386h34v1h-34zM354 387h31v1h-31zM425 387h343v1h-343zM136 387h174v1h-174zM428 388h340v1h-340zM136 388h173v1h-173zM356 388h27v1h-27zM358 389h24v1h-24zM432 389h336v1h-336zM136 389h172v2h-172zM436 390h332v1h-332zM360 390h21v1h-21zM362 391h17v1h-17zM136 391h171v1h-171zM441 391h327v1h-327zM365 392h12v1h-12zM136 392h170v1h-170zM446 392h322v1h-322zM449 393h319v1h-319zM136 393h169v1h-169zM453 394h315v1h-315zM136 394h168v1h-168zM456 395h312v1h-312zM136 395h167v1h-167zM460 396h109v1h-109zM584 396h89v1h-89zM136 396h166v1h-166zM687 396h81v1h-81zM610 397h54v1h-54zM154 397h146v1h-146zM463 397h103v1h-103zM697 397h71v1h-71zM466 398h97v1h-97zM753 398h15v1h-15zM157 398h142v1h-142zM470 399h90v1h-90zM161 399h136v1h-136zM760 399h8v1h-8zM167 400h127v1h-127zM475 400h83v1h-83zM254 401h35v1h-35zM482 401h73v1h-73zM492 402h59v1h-59zM501 403h46v1h-46zM514 404h27v1h-27z"/>
<path fill="#0055ff" d="M136 157h8v1h-8zM507 157h261v1h-261zM136 158h20v1h-20zM490 158h278v1h-278zM136 159h36v1h-36zM471 159h297v1h-297zM454 160h314v1h-314zM136 160h45v1h-45zM443 161h325v1h-325zM136 161h54v1h-54zM432 162h336v1h-336zM136 162h62v1h-62zM136 163h68v1h-68zM423 163h345v1h-345zM414 164h354v1h-354zM136 164h73v1h-73zM407 165h361v1h-361zM136 165h77v1h-77zM400 166h368v1h-368zM136 166h79v1h-79zM136 167h82v1h-82zM395 167h373v1h-373zM391 168h377v1h-377zM136 168h84v1h-84zM136 169h85v1h-85zM387 169h381v1h-381zM383 170h385v1h-385zM136 170h87v1h-87zM136 171h88v1h-88zM379 171h389v1h-389zM376 172h392v1h-392zM136 172h89v1h-89zM373 173h395v1h-395zM136 173h90v1h-90zM136 174h91v1h-91zM371 174h397v1h-397zM136 175h92v1h-92zM368 175h400v1h-400zM366 176h402v1h-402zM136 176h93v2h-93zM364 177h404v1h-404zM362 178h406v1h-406zM136 178h94v1h-94zM360 179h408v1h-408zM136 179h95v2h-95zM358 180h410v1h-410zM357 181h411v1h-411zM136 181h96v2h-96zM355 182h413v1h-413zM353 183h415v1h-415zM352 184h416v1h-416zM136 183h97v3h-97zM351 185h417v1h-417zM349 186h419v1h-419zM136 186h98v2h-98zM348 187h420v1h-420zM347 188h421v1h-421zM346 189h422v1h-422zM136 188h99v3h-99zM345 190h423v1h-423zM344 191h424v1h-424zM343 192h425v1h-425zM342 193h426v1h-426zM136 191h100v4h-100zM341 194h427v1h-427zM340 195h428v2h-428zM339 197h429v1h-429zM136 195h101v4h-101zM338 198h430v1h-430zM337 199h431v2h-431zM336 201h432v2h-432zM136 199h102v5h-102zM335 203h433v1h-433zM334 204h434v2h-434zM333 206h435v2h-435zM136 204h103v5h-103zM332 208h436v3h-436zM136 209h104v5h-104zM331 211h437v3h-437zM330 214h438v3h-438zM136 214h105v4h-105zM329 217h439v5h-439zM136 218h106v4h-106zM136 222h107v3h-107zM136 225h108v4h-108zM136 229h109v3h-109zM136 232h110v3h-110zM136 235h111v2h-111zM136 237h112v3h-112zM328 222h440v19h-440zM136 240h113v2h-113zM136 242h114v2h-114zM136 244h115v1h-115zM136 245h116v2h-116zM329 241h439v7h-439zM136 247h117v1h-117zM136 248h118v1h-118zM136 249h119v2h-119zM136 251h120v1h-120zM136 252h121v1h-121zM330 248h438v6h-438zM136 253h123v1h-123zM136 254h124v1h-124zM136 255h125v1h-125zM136 256h127v1h-127zM136 257h129v1h-129zM331 254h437v5h-437zM136 258h131v1h-131zM136 259h133v1h-133zM136 260h137v1h-137zM136 261h141v1h-141zM136 262h146v1h-146zM136 263h150v1h-150zM332 259h436v6h-436zM136 264h154v1h-154zM136 265h158v1h-158zM136 266h161v1h-161zM136 267h163v1h-163zM136 268h164v1h-164zM333 265h435v5h-435zM136 269h165v1h-165zM136 270h166v1h-166zM136 271h167v1h-167zM136 272h168v1h-168zM334 270h434v5h-434zM136 273h169v2h-169zM136 275h170v2h-170zM335 275h433v4h-433zM136 277h171v5h-171zM336 279h432v4h-432zM136 282h172v4h-172zM337 283h431v4h-431zM136 286h173v3h-173zM338 287h430v3h-430zM136 289h174v4h-174zM339 290h429v3h-429zM340 293h428v2h-428zM136 293h175v4h-175zM341 295h427v2h-427zM342 297h426v2h-426zM343 299h425v1h-425zM344 300h424v1h-424zM136 297h176v5h-176zM345 301h423v2h-423zM346 303h422v1h-422zM347 304h421v1h-421zM136 302h177v4h-177zM348 305h420v1h-420zM350 306h418v1h-418zM351 307h417v1h-417zM352 308h416v1h-416zM354 309h414v1h-414zM136 306h178v5h-178zM355 310h413v1h-413zM357 311h411v1h-411zM358 312h410v1h-410zM359 313h409v2h-409zM360 315h408v1h-408zM136 311h179v6h-179zM361 316h407v2h-407zM362 318h406v7h-406zM136 317h180v9h-180zM361 325h407v4h-407zM360 329h408v4h-408zM136 326h181v9h-181zM359 333h409v3h-409zM358 336h410v2h-410zM357 338h411v2h-411zM356 340h412v1h-412zM355 341h413v1h-413zM354 342h414v1h-414zM353 343h415v2h-415zM352 345h416v1h-416zM350 346h418v1h-418zM349 347h419v1h-419zM136 335h182v14h-182zM347 348h421v1h-421zM345 349h423v1h-423zM342 350h426v1h-426zM339 351h429v1h-429zM338 352h430v1h-430zM337 353h431v1h-431zM336 354h432v1h-432zM335 355h433v1h-433zM136 349h183v21h-183zM334 356h434v17h-434zM136 370h182v4h-182zM136 374h181v2h-181zM335 373h433v4h-433zM136 376h180v2h-180zM336 377h432v2h-432zM136 378h179v2h-179zM337 379h431v1h-431zM338 380h430v1h-430zM136 380h178v1h-178zM407 381h361v1h-361zM339 381h54v1h-54zM136 381h177v1h-177zM341 382h49v1h-49zM412 382h356v1h-356zM136 382h176v2h-176zM344 383h44v1h-44zM417 383h351v1h-351zM136 384h175v1h-175zM421 384h347v1h-347zM347 384h39v1h-39zM425 385h343v1h-343zM352 385h33v1h-33zM136 385h174v1h-174zM430 386h338v1h-338zM355 386h29v1h-29zM136 386h173v1h-173zM357 387h25v1h-25zM136 387h172v1h-172zM436 387h332v1h-332zM445 388h323v1h-323zM136 388h171v1h-171zM360 388h21v1h-21zM136 389h170v1h-170zM449 389h319v1h-319zM363 389h16v1h-16zM453 390h315v1h-315zM366 390h10v1h-10zM136 390h169v1h-169zM456 391h312v1h-312zM136 391h168v1h-168zM460 392h308v1h-308zM136 392h167v1h-167zM136 393h165v1h-165zM463 393h305v1h-305zM467 394h301v1h-301zM151 394h149v1h-149zM692 395h76v1h-76zM598 395h68v1h-68zM157 395h141v1h-141zM471 395h97v1h-97zM476 396h89v1h-89zM750 396h18v1h-18zM162 396h135v1h-135zM761 397h7v1h-7zM481 397h81v1h-81zM171 397h123v1h-123zM485 398h74v1h-74zM252 398h38v1h-38zM268 399h13v1h-13zM490 399h65v1h-65zM497 400h54v1h-54zM507 401h40v1h-40zM527 402h7v1h-7z"/>
<path fill="#006aff" d="M529 161h239v1h-239zM136 161h5v1h-5zM503 162h265v1h-265zM136 162h27v1h-27zM486 163h282v1h-282zM136 163h41v1h-41zM473 164h295v1h-295zM136 164h51v1h-51zM136 165h58v1h-58zM462 165h306v1h-306zM451 166h317v1h-317zM136 166h64v1h-64zM136 167h69v1h-69zM442 167h326v1h-326zM432 168h336v1h-336zM136 168h73v1h-73zM136 169h76v1h-76zM423 169h345v1h-345zM416 170h352v1h-352zM136 170h78v1h-78zM136 171h80v1h-80zM410 171h358v1h-358zM136 172h82v1h-82zM404 172h364v1h-364zM399 173h369v1h-369zM136 173h83v1h-83zM136 174h85v1h-85zM395 174h373v1h-373zM136 175h86v1h-86zM391 175h377v1h-377zM136 176h87v1h-87zM388 176h380v1h-380zM384 177h384v1h-384zM136 177h88v1h-88zM381 178h387v1h-387zM136 178h89v1h-89zM379 179h389v1h-389zM136 179h90v1h-90zM376 180h392v1h-392zM136 180h91v2h-91zM374 181h394v1h-394zM136 182h92v1h-92zM371 182h397v1h-397zM369 183h399v1h-399zM136 183h93v2h-93zM367 184h401v1h-401zM366 185h402v1h-402zM136 185h94v2h-94zM364 186h404v1h-404zM362 187h406v1h-406zM361 188h407v1h-407zM136 187h95v3h-95zM359 189h409v1h-409zM358 190h410v1h-410zM136 190h96v2h-96zM356 191h412v1h-412zM355 192h413v1h-413zM354 193h414v1h-414zM353 194h415v1h-415zM136 192h97v4h-97zM352 195h416v1h-416zM351 196h417v1h-417zM350 197h418v1h-418zM136 196h98v3h-98zM349 198h419v1h-419zM348 199h420v1h-420zM347 200h421v1h-421zM346 201h422v1h-422zM345 202h423v1h-423zM136 199h99v5h-99zM344 203h424v2h-424zM343 205h425v1h-425zM342 206h426v2h-426zM136 204h100v5h-100zM341 208h427v2h-427zM340 210h428v1h-428zM339 211h429v2h-429zM136 209h101v5h-101zM338 213h430v3h-430zM337 216h431v2h-431zM136 214h102v5h-102zM336 218h432v3h-432zM136 219h103v4h-103zM335 221h433v3h-433zM136 223h104v5h-104zM334 224h434v5h-434zM136 228h105v3h-105zM136 231h106v4h-106zM136 235h107v3h-107zM333 229h435v10h-435zM136 238h108v2h-108zM136 240h109v3h-109zM136 243h110v2h-110zM332 239h436v8h-436zM136 245h111v2h-111zM136 247h112v2h-112zM136 249h113v1h-113zM136 250h114v1h-114zM136 251h115v2h-115zM136 253h116v1h-116zM136 254h117v1h-117zM136 255h118v1h-118zM136 256h120v1h-120zM136 257h121v1h-121zM333 247h435v12h-435zM136 258h123v1h-123zM136 259h125v1h-125zM136 260h127v1h-127zM136 261h130v1h-130zM136 262h134v1h-134zM136 263h140v1h-140zM136 264h147v1h-147zM136 265h152v1h-152zM136 266h156v1h-156zM334 259h434v9h-434zM136 267h159v1h-159zM136 268h162v1h-162zM136 269h163v1h-163zM136 270h165v1h-165zM136 271h166v1h-166zM335 268h433v5h-433zM136 272h167v1h-167zM136 273h168v2h-168zM136 275h169v1h-169zM336 273h432v5h-432zM136 276h170v6h-170zM337 278h431v4h-431zM338 282h430v3h-430zM136 282h171v4h-171zM339 285h429v4h-429zM136 286h172v3h-172zM340 289h428v3h-428zM136 289h173v4h-173zM341 292h427v2h-427zM342 294h426v2h-426zM136 293h174v4h-174zM343 296h425v2h-425zM344 298h424v1h-424zM136 297h175v4h-175zM345 299h423v2h-423zM346 301h422v1h-422zM347 302h421v1h-421zM348 303h420v1h-420zM349 304h419v1h-419zM136 301h176v5h-176zM350 305h418v1h-418zM351 306h417v1h-417zM353 307h415v1h-415zM354 308h414v1h-414zM356 309h412v1h-412zM136 306h177v5h-177zM357 310h411v1h-411zM358 311h410v1h-410zM359 312h409v1h-409zM360 313h408v1h-408zM361 314h407v2h-407zM136 311h178v6h-178zM362 316h406v2h-406zM363 318h405v5h-405zM136 317h179v7h-179zM362 323h406v5h-406zM361 328h407v3h-407zM136 324h180v9h-180zM360 331h408v4h-408zM359 335h409v2h-409zM358 337h410v2h-410zM357 339h411v2h-411zM356 341h412v1h-412zM355 342h413v1h-413zM136 333h181v12h-181zM354 343h414v2h-414zM353 345h415v1h-415zM352 346h416v1h-416zM351 347h417v1h-417zM349 348h419v1h-419zM347 349h421v1h-421zM344 350h424v1h-424zM341 351h427v1h-427zM339 352h429v1h-429zM337 353h431v1h-431zM336 354h432v2h-432zM335 356h433v2h-433zM136 345h182v23h-182zM334 358h434v13h-434zM136 368h181v5h-181zM335 371h433v4h-433zM136 373h180v2h-180zM136 375h179v2h-179zM336 375h432v2h-432zM337 377h431v2h-431zM136 377h178v2h-178zM407 379h361v1h-361zM338 379h57v1h-57zM136 379h177v1h-177zM136 380h176v1h-176zM412 380h356v1h-356zM339 380h52v1h-52zM136 381h175v1h-175zM341 381h48v1h-48zM417 381h351v1h-351zM421 382h347v1h-347zM343 382h44v1h-44zM136 382h174v1h-174zM346 383h40v1h-40zM136 383h173v1h-173zM426 383h342v1h-342zM443 384h325v1h-325zM136 384h172v1h-172zM350 384h34v1h-34zM432 384h7v1h-7zM355 385h27v1h-27zM136 385h171v1h-171zM447 385h321v1h-321zM136 386h170v1h-170zM359 386h22v1h-22zM451 386h317v1h-317zM362 387h17v1h-17zM455 387h313v1h-313zM136 387h169v1h-169zM459 388h309v1h-309zM367 388h9v1h-9zM136 388h168v1h-168zM463 389h305v1h-305zM136 389h167v1h-167zM136 390h166v1h-166zM466 390h302v1h-302zM470 391h298v1h-298zM148 391h152v1h-152zM156 392h143v1h-143zM475 392h293v1h-293zM482 393h92v1h-92zM580 393h90v1h-90zM684 393h84v1h-84zM162 393h135v1h-135zM175 394h120v1h-120zM701 394h67v1h-67zM485 394h82v1h-82zM250 395h41v1h-41zM761 395h7v1h-7zM486 395h77v1h-77zM489 396h71v1h-71zM262 396h24v1h-24zM494 397h62v1h-62zM502 398h50v1h-50zM513 399h33v1h-33z"/>
<path fill="#0080ff" d="M529 165h239v1h-239zM136 165h16v1h-16zM136 166h35v1h-35zM509 166h259v1h-259zM494 167h274v1h-274zM136 167h48v1h-48zM482 168h286v1h-286zM136 168h56v1h-56zM474 169h294v1h-294zM136 169h62v1h-62zM466 170h302v1h-302zM136 170h67v1h-67zM136 171h70v1h-70zM458 171h310v1h-310zM449 172h319v1h-319zM136 172h73v1h-73zM136 173h75v1h-75zM440 173h328v1h-328zM136 174h77v1h-77zM431 174h337v1h-337zM423 175h345v1h-345zM136 175h79v1h-79zM136 176h81v1h-81zM417 176h351v1h-351zM136 177h82v1h-82zM411 177h357v1h-357zM406 178h362v1h-362zM136 178h83v1h-83zM136 179h85v1h-85zM402 179h366v1h-366zM136 180h86v1h-86zM398 180h370v1h-370zM394 181h374v1h-374zM136 181h87v1h-87zM391 182h377v1h-377zM136 182h88v2h-88zM388 183h380v1h-380zM136 184h89v1h-89zM385 184h383v1h-383zM382 185h386v1h-386zM136 185h90v2h-90zM380 186h388v1h-388zM378 187h390v1h-390zM136 187h91v2h-91zM376 188h392v1h-392zM374 189h394v1h-394zM136 189h92v2h-92zM372 190h396v1h-396zM370 191h398v1h-398zM136 191h93v2h-93zM368 192h400v1h-400zM366 193h402v1h-402zM365 194h403v1h-403zM136 193h94v3h-94zM363 195h405v1h-405zM362 196h406v1h-406zM361 197h407v1h-407zM136 196h95v3h-95zM359 198h409v1h-409zM358 199h410v1h-410zM357 200h411v1h-411zM356 201h412v1h-412zM136 199h96v4h-96zM355 202h413v1h-413zM354 203h414v1h-414zM353 204h415v1h-415zM352 205h416v1h-416zM351 206h417v1h-417zM136 203h97v6h-97zM350 207h418v2h-418zM349 209h419v1h-419zM348 210h420v1h-420zM347 211h421v2h-421zM346 213h422v1h-422zM136 209h98v6h-98zM345 214h423v2h-423zM344 216h424v2h-424zM136 215h99v5h-99zM343 218h425v2h-425zM342 220h426v2h-426zM341 222h427v3h-427zM136 220h100v6h-100zM340 225h428v2h-428zM136 226h101v5h-101zM339 227h429v4h-429zM136 231h102v4h-102zM338 231h430v4h-430zM136 235h103v4h-103zM337 235h431v5h-431zM136 239h104v3h-104zM136 242h105v3h-105zM336 240h432v7h-432zM136 245h106v2h-106zM136 247h107v2h-107zM136 249h108v2h-108zM136 251h109v2h-109zM136 253h110v1h-110zM136 254h111v2h-111zM136 256h112v1h-112zM136 257h113v1h-113zM335 247h433v12h-433zM136 258h114v1h-114zM136 259h115v1h-115zM136 260h117v1h-117zM136 261h119v1h-119zM136 262h121v1h-121zM136 263h124v1h-124zM136 264h129v1h-129zM136 265h138v1h-138zM136 266h148v1h-148zM136 267h154v1h-154zM136 268h158v1h-158zM136 269h161v1h-161zM336 259h432v12h-432zM136 270h163v1h-163zM136 271h164v1h-164zM136 272h165v1h-165zM136 273h166v1h-166zM136 274h167v1h-167zM337 271h431v5h-431zM136 275h168v1h-168zM338 276h430v4h-430zM136 276h169v6h-169zM339 280h429v4h-429zM136 282h170v4h-170zM340 284h428v4h-428zM136 286h171v3h-171zM341 288h427v3h-427zM136 289h172v3h-172zM342 291h426v2h-426zM343 293h425v2h-425zM136 292h173v5h-173zM344 295h424v2h-424zM345 297h423v2h-423zM346 299h422v1h-422zM136 297h174v4h-174zM347 300h421v1h-421zM348 301h420v1h-420zM349 302h419v1h-419zM350 303h418v1h-418zM136 301h175v4h-175zM351 304h417v1h-417zM352 305h416v1h-416zM353 306h415v1h-415zM355 307h413v1h-413zM356 308h412v1h-412zM136 305h176v5h-176zM357 309h411v1h-411zM359 310h409v1h-409zM360 311h408v1h-408zM361 312h407v2h-407zM136 310h177v6h-177zM362 314h406v2h-406zM363 316h405v4h-405zM364 320h404v1h-404zM136 316h178v7h-178zM363 321h405v5h-405zM362 326h406v4h-406zM136 323h179v8h-179zM361 330h407v3h-407zM360 333h408v3h-408zM359 336h409v3h-409zM136 331h180v9h-180zM358 339h410v1h-410zM357 340h411v2h-411zM356 342h412v1h-412zM355 343h413v2h-413zM354 345h414v1h-414zM353 346h415v1h-415zM352 347h416v1h-416zM351 348h417v1h-417zM349 349h419v1h-419zM347 350h421v1h-421zM343 351h425v1h-425zM340 352h428v1h-428zM338 353h430v1h-430zM337 354h431v1h-431zM336 355h432v1h-432zM136 340h181v28h-181zM136 368h180v4h-180zM335 356h433v17h-433zM136 372h179v2h-179zM336 373h432v3h-432zM136 374h178v2h-178zM337 376h431v1h-431zM136 376h177v2h-177zM337 377h59v1h-59zM408 377h360v1h-360zM136 378h176v1h-176zM338 378h54v1h-54zM412 378h356v1h-356zM136 379h175v1h-175zM417 379h351v1h-351zM339 379h51v1h-51zM421 380h347v1h-347zM340 380h48v1h-48zM136 380h174v1h-174zM342 381h44v1h-44zM427 381h341v1h-341zM136 381h173v1h-173zM345 382h40v1h-40zM136 382h172v1h-172zM444 382h324v1h-324zM448 383h320v1h-320zM136 383h171v1h-171zM348 383h35v1h-35zM136 384h170v1h-170zM452 384h316v1h-316zM355 384h26v1h-26zM456 385h312v1h-312zM362 385h17v1h-17zM136 385h169v1h-169zM366 386h10v1h-10zM460 386h308v1h-308zM136 386h168v1h-168zM136 387h166v1h-166zM464 387h304v1h-304zM144 388h157v1h-157zM469 388h299v1h-299zM154 389h145v1h-145zM474 389h294v1h-294zM480 390h288v1h-288zM161 390h137v1h-137zM483 391h285v1h-285zM199 391h97v1h-97zM598 392h10v1h-10zM692 392h76v1h-76zM247 392h46v1h-46zM486 392h84v1h-84zM762 393h6v1h-6zM258 393h31v1h-31zM488 393h78v1h-78zM273 394h8v1h-8zM491 394h71v1h-71zM498 395h60v1h-60zM507 396h47v1h-47zM519 397h26v1h-26z"/>
<path fill="#0095ff" d="M546 168h43v1h-43zM529 169h239v1h-239zM136 169h24v1h-24zM136 170h46v1h-46zM513 170h255v1h-255zM136 171h54v1h-54zM501 171h267v1h-267zM489 172h279v1h-279zM136 172h60v1h-60zM481 173h287v1h-287zM136 173h65v1h-65zM136 174h69v1h-69zM474 174h294v1h-294zM468 175h300v1h-300zM136 175h71v1h-71zM462 176h306v1h-306zM136 176h73v1h-73zM456 177h312v1h-312zM136 177h75v1h-75zM448 178h320v1h-320zM136 178h77v1h-77zM439 179h329v1h-329zM136 179h78v1h-78zM136 180h80v1h-80zM430 180h338v1h-338zM136 181h81v1h-81zM423 181h345v1h-345zM417 182h351v1h-351zM136 182h83v1h-83zM136 183h84v1h-84zM412 183h356v1h-356zM136 184h85v1h-85zM408 184h360v1h-360zM136 185h86v1h-86zM404 185h364v1h-364zM400 186h368v1h-368zM136 186h87v2h-87zM396 187h372v1h-372zM136 188h88v1h-88zM393 188h375v1h-375zM390 189h378v1h-378zM136 189h89v2h-89zM387 190h381v1h-381zM385 191h383v1h-383zM136 191h90v2h-90zM383 192h385v1h-385zM381 193h387v1h-387zM379 194h389v1h-389zM136 193h91v3h-91zM377 195h391v1h-391zM375 196h393v1h-393zM136 196h92v2h-92zM373 197h395v1h-395zM371 198h397v1h-397zM369 199h399v1h-399zM368 200h400v1h-400zM136 198h93v4h-93zM366 201h402v1h-402zM365 202h403v1h-403zM363 203h405v1h-405zM362 204h406v1h-406zM361 205h407v1h-407zM360 206h408v1h-408zM136 202h94v6h-94zM359 207h409v1h-409zM358 208h410v1h-410zM357 209h411v1h-411zM356 210h412v1h-412zM355 211h413v2h-413zM354 213h414v1h-414zM136 208h95v7h-95zM353 214h415v1h-415zM352 215h416v2h-416zM351 217h417v1h-417zM350 218h418v2h-418zM349 220h419v1h-419zM136 215h96v7h-96zM348 221h420v2h-420zM347 223h421v2h-421zM346 225h422v2h-422zM345 227h423v2h-423zM136 222h97v8h-97zM344 229h424v2h-424zM343 231h425v3h-425zM136 230h98v6h-98zM342 234h426v3h-426zM341 237h427v3h-427zM136 236h99v5h-99zM340 240h428v3h-428zM136 241h100v4h-100zM339 243h429v4h-429zM136 245h101v3h-101zM136 248h102v3h-102zM136 251h103v3h-103zM338 247h430v8h-430zM136 254h104v2h-104zM136 256h105v2h-105zM136 258h106v2h-106zM136 260h107v1h-107zM136 261h108v1h-108zM136 262h109v1h-109zM136 263h110v1h-110zM136 264h111v1h-111zM136 265h113v1h-113zM136 266h115v1h-115zM136 267h120v1h-120zM337 255h431v14h-431zM136 268h150v1h-150zM136 269h157v1h-157zM136 270h160v1h-160zM136 271h162v1h-162zM136 272h164v1h-164zM136 273h165v1h-165zM338 269h430v6h-430zM136 274h166v1h-166zM136 275h167v1h-167zM339 275h429v4h-429zM136 276h168v6h-168zM340 279h428v4h-428zM136 282h169v3h-169zM341 283h427v4h-427zM136 285h170v4h-170zM342 287h426v3h-426zM136 289h171v3h-171zM343 290h425v2h-425zM344 292h424v2h-424zM136 292h172v4h-172zM345 294h423v2h-423zM346 296h422v2h-422zM347 298h421v1h-421zM136 296h173v5h-173zM348 299h420v2h-420zM349 301h419v1h-419zM350 302h418v1h-418zM351 303h417v1h-417zM136 301h174v4h-174zM352 304h416v1h-416zM354 305h414v1h-414zM355 306h413v1h-413zM356 307h412v1h-412zM358 308h410v1h-410zM136 305h175v5h-175zM359 309h409v1h-409zM360 310h408v1h-408zM361 311h407v1h-407zM362 312h406v1h-406zM136 310h176v5h-176zM363 313h405v2h-405zM136 315h177v6h-177zM364 315h404v10h-404zM136 321h178v8h-178zM363 325h405v4h-405zM362 329h406v3h-406zM361 332h407v3h-407zM136 329h179v9h-179zM360 335h408v3h-408zM359 338h409v2h-409zM358 340h410v1h-410zM357 341h411v2h-411zM356 343h412v1h-412zM355 344h413v2h-413zM354 346h414v1h-414zM353 347h415v1h-415zM352 348h416v1h-416zM351 349h417v1h-417zM350 350h418v1h-418zM348 351h420v1h-420zM341 352h427v1h-427zM339 353h429v1h-429zM338 354h430v1h-430zM337 355h431v1h-431zM336 356h432v2h-432zM136 338h180v30h-180zM335 358h433v13h-433zM136 368h179v3h-179zM136 371h178v3h-178zM336 371h432v3h-432zM337 374h431v1h-431zM136 374h177v2h-177zM337 375h58v1h-58zM409 375h359v1h-359zM413 376h355v1h-355zM136 376h176v1h-176zM337 376h55v1h-55zM136 377h175v1h-175zM338 377h52v1h-52zM417 377h351v1h-351zM421 378h347v1h-347zM339 378h49v1h-49zM136 378h174v1h-174zM340 379h47v1h-47zM136 379h173v1h-173zM428 379h340v1h-340zM136 380h172v1h-172zM442 380h326v1h-326zM341 380h44v1h-44zM136 381h171v1h-171zM344 381h40v1h-40zM447 381h321v1h-321zM136 382h170v1h-170zM450 382h318v1h-318zM346 382h36v1h-36zM354 383h26v1h-26zM454 383h314v1h-314zM136 383h169v1h-169zM459 384h309v1h-309zM136 384h167v1h-167zM366 384h12v1h-12zM139 385h163v1h-163zM465 385h303v1h-303zM152 386h149v1h-149zM470 386h298v1h-298zM159 387h140v1h-140zM476 387h292v1h-292zM203 388h94v1h-94zM481 388h287v1h-287zM245 389h50v1h-50zM484 389h284v1h-284zM486 390h125v1h-125zM256 390h36v1h-36zM681 390h87v1h-87zM488 391h80v1h-80zM266 391h21v1h-21zM762 391h6v1h-6zM493 392h71v1h-71zM502 393h58v1h-58zM512 394h44v1h-44zM523 395h22v1h-22z"/>
<path fill="#00aaff" d="M546 172h42v1h-42zM136 173h25v1h-25zM533 173h235v1h-235zM136 174h49v1h-49zM520 174h248v1h-248zM508 175h260v1h-260zM136 175h56v1h-56zM498 176h270v1h-270zM136 176h61v1h-61zM487 177h281v1h-281zM136 177h67v1h-67zM136 178h70v1h-70zM480 178h288v1h-288zM476 179h292v1h-292zM136 179h72v1h-72zM471 180h297v1h-297zM136 180h73v1h-73zM136 181h75v1h-75zM466 181h302v1h-302zM136 182h76v1h-76zM461 182h307v1h-307zM455 183h313v1h-313zM136 183h78v1h-78zM136 184h80v1h-80zM449 184h319v1h-319zM136 185h81v1h-81zM441 185h327v1h-327zM432 186h336v1h-336zM136 186h83v1h-83zM424 187h344v1h-344zM136 187h84v2h-84zM418 188h350v1h-350zM136 189h85v1h-85zM414 189h354v1h-354zM410 190h358v1h-358zM136 190h86v2h-86zM406 191h362v1h-362zM402 192h366v1h-366zM136 192h87v2h-87zM398 193h370v1h-370zM394 194h374v1h-374zM136 194h88v2h-88zM391 195h377v1h-377zM389 196h379v1h-379zM136 196h89v2h-89zM387 197h381v1h-381zM385 198h383v1h-383zM383 199h385v1h-385zM381 200h387v1h-387zM136 198h90v4h-90zM379 201h389v1h-389zM377 202h391v1h-391zM376 203h392v1h-392zM374 204h394v1h-394zM136 202h91v4h-91zM372 205h396v1h-396zM370 206h398v1h-398zM368 207h400v1h-400zM366 208h402v1h-402zM365 209h403v1h-403zM364 210h404v1h-404zM363 211h405v1h-405zM362 212h406v1h-406zM136 206h92v8h-92zM361 213h407v1h-407zM360 214h408v2h-408zM359 216h409v1h-409zM358 217h410v1h-410zM357 218h411v1h-411zM356 219h412v2h-412zM355 221h413v1h-413zM136 214h93v9h-93zM354 222h414v1h-414zM353 223h415v2h-415zM352 225h416v1h-416zM351 226h417v2h-417zM350 228h418v1h-418zM349 229h419v2h-419zM348 231h420v2h-420zM136 223h94v12h-94zM347 233h421v2h-421zM346 235h422v3h-422zM345 238h423v2h-423zM344 240h424v2h-424zM136 235h95v8h-95zM343 242h425v2h-425zM342 244h426v3h-426zM136 243h96v6h-96zM341 247h427v2h-427zM136 249h97v5h-97zM340 249h428v6h-428zM136 254h98v5h-98zM136 259h99v6h-99zM136 265h100v5h-100zM271 270h16v1h-16zM263 271h31v1h-31zM339 255h429v18h-429zM259 272h38v1h-38zM256 273h43v1h-43zM136 270h101v5h-101zM253 274h47v1h-47zM251 275h50v1h-50zM250 276h52v1h-52zM340 273h428v5h-428zM249 277h54v1h-54zM136 275h102v4h-102zM248 278h55v2h-55zM341 278h427v4h-427zM247 280h56v2h-56zM136 279h103v4h-103zM246 282h58v2h-58zM245 284h59v1h-59zM342 282h426v4h-426zM136 283h104v3h-104zM245 285h60v1h-60zM244 286h61v1h-61zM136 286h105v2h-105zM243 287h62v1h-62zM343 286h425v3h-425zM243 288h63v1h-63zM136 288h106v1h-106zM136 289h170v3h-170zM344 289h424v3h-424zM345 292h423v2h-423zM136 292h171v4h-171zM346 294h422v2h-422zM347 296h421v1h-421zM348 297h420v2h-420zM136 296h172v4h-172zM349 299h419v1h-419zM350 300h418v1h-418zM351 301h417v1h-417zM352 302h416v1h-416zM353 303h415v1h-415zM136 300h173v5h-173zM354 304h414v1h-414zM355 305h413v1h-413zM357 306h411v1h-411zM358 307h410v1h-410zM136 305h174v4h-174zM360 308h408v1h-408zM361 309h407v1h-407zM362 310h406v1h-406zM363 311h405v2h-405zM136 309h175v6h-175zM364 313h404v2h-404zM136 315h176v5h-176zM365 315h403v9h-403zM136 320h177v8h-177zM364 324h404v4h-404zM363 328h405v3h-405zM362 331h406v3h-406zM136 328h178v8h-178zM361 334h407v3h-407zM360 337h408v2h-408zM359 339h409v2h-409zM358 341h410v2h-410zM357 343h411v1h-411zM356 344h412v2h-412zM355 346h413v1h-413zM354 347h414v2h-414zM353 349h415v1h-415zM352 350h416v1h-416zM136 336h179v16h-179zM351 351h417v1h-417zM349 352h419v1h-419zM341 353h427v1h-427zM339 354h429v1h-429zM338 355h430v1h-430zM337 356h431v1h-431zM136 352h180v7h-180zM136 359h179v9h-179zM136 368h178v3h-178zM336 357h432v15h-432zM136 371h177v2h-177zM405 372h363v1h-363zM336 372h63v1h-63zM410 373h358v1h-358zM337 373h57v1h-57zM136 373h176v2h-176zM413 374h355v1h-355zM337 374h55v1h-55zM136 375h175v1h-175zM338 375h52v1h-52zM417 375h351v1h-351zM421 376h258v1h-258zM681 376h87v1h-87zM136 376h174v1h-174zM338 376h50v1h-50zM339 377h48v1h-48zM136 377h173v1h-173zM683 377h85v1h-85zM428 377h251v1h-251zM440 378h239v1h-239zM136 378h172v1h-172zM684 378h84v1h-84zM339 378h46v1h-46zM136 379h171v1h-171zM446 379h233v1h-233zM341 379h43v1h-43zM686 379h82v2h-82zM449 380h231v1h-231zM136 380h170v1h-170zM343 380h40v1h-40zM453 381h227v1h-227zM345 381h36v1h-36zM136 381h169v1h-169zM687 381h81v2h-81zM457 382h223v1h-223zM136 382h167v1h-167zM366 382h13v1h-13zM349 382h7v1h-7zM686 383h82v1h-82zM370 383h6v1h-6zM151 383h151v1h-151zM465 383h216v1h-216zM685 384h83v1h-83zM472 384h209v1h-209zM158 384h142v1h-142zM205 385h94v1h-94zM684 385h84v1h-84zM479 385h202v1h-202zM244 386h53v1h-53zM483 386h199v1h-199zM683 386h85v2h-85zM254 387h40v1h-40zM485 387h193v1h-193zM687 388h81v1h-81zM487 388h123v1h-123zM262 388h29v1h-29zM272 389h13v1h-13zM491 389h78v1h-78zM502 390h63v1h-63zM512 391h48v1h-48zM521 392h35v1h-35z"/>
<path fill="#00bfff" d="M552 176h25v1h-25zM136 177h20v1h-20zM539 177h229v1h-229zM528 178h240v1h-240zM136 178h44v1h-44zM136 179h52v1h-52zM517 179h251v1h-251zM136 180h58v1h-58zM507 180h261v1h-261zM136 181h63v1h-63zM498 181h270v1h-270zM489 182h279v1h-279zM136 182h66v1h-66zM483 183h285v1h-285zM136 183h69v1h-69zM478 184h290v1h-290zM136 184h71v1h-71zM473 185h295v1h-295zM136 185h73v1h-73zM136 186h75v1h-75zM469 186h299v1h-299zM136 187h76v1h-76zM464 187h304v1h-304zM460 188h308v1h-308zM136 188h78v1h-78zM456 189h312v1h-312zM136 189h79v1h-79zM136 190h80v1h-80zM451 190h317v1h-317zM136 191h81v1h-81zM446 191h322v1h-322zM136 192h82v1h-82zM442 192h326v1h-326zM136 193h83v1h-83zM436 193h332v1h-332zM431 194h337v1h-337zM136 194h84v2h-84zM425 195h343v1h-343zM136 196h85v1h-85zM419 196h349v1h-349zM414 197h354v1h-354zM136 197h86v2h-86zM409 198h359v1h-359zM404 199h364v1h-364zM136 199h87v2h-87zM399 200h369v1h-369zM395 201h373v1h-373zM392 202h376v1h-376zM389 203h379v1h-379zM136 201h88v4h-88zM386 204h382v1h-382zM384 205h384v1h-384zM382 206h386v1h-386zM379 207h389v1h-389zM377 208h391v1h-391zM136 205h89v5h-89zM375 209h393v1h-393zM373 210h395v1h-395zM371 211h397v1h-397zM370 212h398v1h-398zM368 213h400v1h-400zM367 214h401v1h-401zM366 215h402v1h-402zM136 210h90v7h-90zM365 216h403v1h-403zM364 217h404v1h-404zM363 218h405v1h-405zM362 219h406v1h-406zM361 220h407v1h-407zM360 221h408v1h-408zM359 222h409v1h-409zM358 223h410v1h-410zM136 217h91v8h-91zM357 224h411v1h-411zM356 225h412v1h-412zM355 226h413v2h-413zM354 228h414v1h-414zM353 229h415v1h-415zM352 230h416v2h-416zM351 232h417v1h-417zM350 233h418v2h-418zM349 235h419v2h-419zM348 237h420v2h-420zM347 239h421v2h-421zM136 225h92v18h-92zM346 241h422v2h-422zM345 243h423v2h-423zM344 245h424v2h-424zM136 243h93v6h-93zM343 247h425v2h-425zM342 249h426v5h-426zM136 249h94v6h-94zM136 255h95v6h-95zM341 254h427v9h-427zM136 261h96v6h-96zM340 263h428v8h-428zM136 267h97v5h-97zM277 272h8v1h-8zM269 273h23v1h-23zM264 274h32v1h-32zM261 275h37v1h-37zM341 271h427v6h-427zM258 276h41v1h-41zM136 272h98v6h-98zM256 277h44v1h-44zM254 278h47v1h-47zM253 279h48v1h-48zM342 277h426v4h-426zM252 280h50v1h-50zM136 278h99v5h-99zM251 281h51v2h-51zM250 283h53v1h-53zM343 281h425v4h-425zM249 284h54v1h-54zM249 285h55v1h-55zM136 283h100v4h-100zM344 285h424v3h-424zM248 286h56v2h-56zM136 287h101v2h-101zM247 288h58v2h-58zM345 288h423v3h-423zM246 290h59v1h-59zM136 289h102v3h-102zM246 291h60v1h-60zM346 291h422v2h-422zM136 292h103v1h-103zM245 292h61v2h-61zM136 293h104v2h-104zM347 293h421v2h-421zM244 294h62v1h-62zM243 295h64v1h-64zM136 295h106v1h-106zM348 295h420v2h-420zM349 297h419v1h-419zM136 296h171v4h-171zM350 298h418v2h-418zM351 300h417v1h-417zM352 301h416v1h-416zM353 302h415v1h-415zM136 300h172v4h-172zM354 303h414v1h-414zM356 304h412v1h-412zM357 305h411v1h-411zM359 306h409v1h-409zM361 307h407v1h-407zM136 304h173v5h-173zM362 308h406v1h-406zM363 309h405v1h-405zM364 310h404v1h-404zM136 309h174v5h-174zM365 311h403v3h-403zM136 314h175v5h-175zM366 314h402v8h-402zM136 319h176v7h-176zM365 322h403v5h-403zM364 327h404v3h-404zM363 330h405v3h-405zM136 326h177v8h-177zM362 333h406v3h-406zM361 336h407v2h-407zM360 338h408v2h-408zM359 340h409v2h-409zM358 342h410v2h-410zM136 334h178v11h-178zM357 344h411v2h-411zM356 346h412v1h-412zM355 347h413v2h-413zM354 349h414v1h-414zM353 350h415v1h-415zM352 351h416v2h-416zM350 353h418v1h-418zM340 354h428v1h-428zM339 355h429v1h-429zM338 356h430v1h-430zM337 357h431v1h-431zM136 345h179v17h-179zM136 362h178v6h-178zM336 358h432v12h-432zM136 368h177v3h-177zM336 370h59v1h-59zM408 370h360v1h-360zM411 371h357v1h-357zM337 371h56v1h-56zM136 371h176v2h-176zM337 372h54v1h-54zM414 372h354v1h-354zM136 373h175v1h-175zM417 373h351v1h-351zM337 373h52v1h-52zM681 374h87v1h-87zM420 374h258v1h-258zM338 374h50v1h-50zM136 374h174v2h-174zM429 375h248v1h-248zM338 375h49v1h-49zM683 375h85v1h-85zM339 376h47v1h-47zM685 376h83v1h-83zM136 376h173v1h-173zM440 376h236v1h-236zM136 377h171v1h-171zM445 377h230v1h-230zM339 377h45v1h-45zM686 377h82v1h-82zM136 378h170v1h-170zM448 378h226v1h-226zM688 378h80v1h-80zM340 378h43v1h-43zM342 379h40v1h-40zM451 379h223v1h-223zM136 379h169v1h-169zM689 379h79v2h-79zM366 380h14v1h-14zM345 380h13v1h-13zM151 380h152v1h-152zM455 380h217v1h-217zM369 381h9v1h-9zM347 381h8v1h-8zM690 381h78v1h-78zM198 381h104v1h-104zM466 381h205v1h-205zM156 381h27v1h-27zM163 382h9v1h-9zM475 382h193v1h-193zM691 382h77v1h-77zM206 382h94v1h-94zM245 383h54v1h-54zM482 383h181v1h-181zM692 383h76v1h-76zM694 384h74v1h-74zM254 384h43v1h-43zM487 384h154v1h-154zM492 385h114v1h-114zM260 385h34v1h-34zM697 385h20v1h-20zM503 386h67v1h-67zM267 386h24v1h-24zM279 387h4v1h-4zM510 387h54v1h-54zM517 388h43v1h-43zM524 389h30v1h-30z"/>
<path fill="#00d4ff" d="M548 181h30v1h-30zM136 182h25v1h-25zM537 182h231v1h-231zM527 183h241v1h-241zM136 183h48v1h-48zM517 184h251v1h-251zM136 184h55v1h-55zM508 185h260v1h-260zM136 185h60v1h-60zM136 186h65v1h-65zM499 186h269v1h-269zM136 187h68v1h-68zM491 187h277v1h-277zM136 188h70v1h-70zM485 188h283v1h-283zM136 189h72v1h-72zM480 189h288v1h-288zM136 190h74v1h-74zM475 190h293v1h-293zM471 191h297v1h-297zM136 191h76v1h-76zM467 192h301v1h-301zM136 192h77v1h-77zM463 193h305v1h-305zM136 193h78v1h-78zM459 194h309v1h-309zM136 194h79v1h-79zM456 195h312v1h-312zM136 195h80v1h-80zM453 196h315v1h-315zM136 196h81v1h-81zM136 197h82v1h-82zM450 197h318v1h-318zM447 198h321v1h-321zM136 198h83v2h-83zM444 199h324v1h-324zM440 200h328v1h-328zM136 200h84v1h-84zM437 201h331v1h-331zM136 201h85v2h-85zM432 202h336v1h-336zM427 203h341v1h-341zM421 204h347v1h-347zM136 203h86v3h-86zM414 205h354v1h-354zM405 206h363v1h-363zM398 207h370v1h-370zM393 208h375v1h-375zM389 209h379v1h-379zM136 206h87v5h-87zM386 210h382v1h-382zM383 211h385v1h-385zM381 212h387v1h-387zM378 213h390v1h-390zM376 214h392v1h-392zM374 215h394v1h-394zM136 211h88v6h-88zM372 216h396v1h-396zM370 217h398v1h-398zM369 218h399v1h-399zM368 219h400v1h-400zM366 220h402v1h-402zM365 221h403v1h-403zM364 222h404v1h-404zM363 223h405v1h-405zM136 217h89v8h-89zM362 224h406v1h-406zM361 225h407v1h-407zM359 226h409v1h-409zM358 227h410v1h-410zM357 228h411v2h-411zM356 230h412v1h-412zM136 225h90v7h-90zM355 231h413v1h-413zM354 232h414v1h-414zM353 233h415v1h-415zM352 234h416v2h-416zM351 236h417v1h-417zM136 232h89v6h-89zM350 237h418v2h-418zM349 239h419v2h-419zM348 241h420v2h-420zM347 243h421v2h-421zM346 245h422v1h-422zM136 238h90v9h-90zM345 246h423v2h-423zM344 248h424v3h-424zM136 247h91v6h-91zM343 251h425v5h-425zM136 253h92v6h-92zM136 259h93v6h-93zM136 265h94v6h-94zM342 256h426v20h-426zM136 271h95v5h-95zM273 275h18v1h-18zM267 276h28v1h-28zM264 277h33v1h-33zM261 278h37v1h-37zM343 276h425v4h-425zM259 279h40v1h-40zM136 276h96v5h-96zM257 280h43v1h-43zM255 281h45v1h-45zM254 282h47v1h-47zM344 280h424v4h-424zM253 283h49v1h-49zM136 281h97v4h-97zM252 284h50v1h-50zM251 285h51v1h-51zM345 284h423v3h-423zM251 286h52v1h-52zM136 285h98v3h-98zM250 287h53v1h-53zM249 288h55v1h-55zM346 287h422v3h-422zM136 288h99v3h-99zM248 289h56v2h-56zM347 290h421v3h-421zM136 291h100v2h-100zM247 291h58v2h-58zM246 293h59v1h-59zM136 293h101v1h-101zM348 293h420v2h-420zM136 294h102v1h-102zM245 294h61v2h-61zM136 295h103v1h-103zM349 295h419v1h-419zM136 296h104v1h-104zM244 296h62v1h-62zM350 296h418v2h-418zM136 297h170v2h-170zM351 298h417v1h-417zM352 299h416v2h-416zM353 301h415v1h-415zM354 302h414v1h-414zM136 299h171v5h-171zM356 303h412v1h-412zM358 304h410v1h-410zM360 305h408v1h-408zM362 306h406v1h-406zM363 307h405v1h-405zM136 304h172v5h-172zM364 308h404v1h-404zM365 309h403v1h-403zM366 310h402v2h-402zM136 309h173v5h-173zM136 314h174v4h-174zM367 312h401v9h-401zM136 318h175v7h-175zM366 321h402v5h-402zM365 326h403v3h-403zM364 329h404v3h-404zM136 325h176v8h-176zM363 332h405v3h-405zM362 335h406v2h-406zM361 337h407v3h-407zM136 333h177v8h-177zM360 340h408v2h-408zM359 342h409v1h-409zM358 343h410v2h-410zM357 345h411v2h-411zM356 347h412v2h-412zM355 349h413v2h-413zM354 351h414v1h-414zM353 352h415v2h-415zM352 354h416v1h-416zM351 355h417v1h-417zM350 356h418v2h-418zM348 358h420v1h-420zM347 359h421v1h-421zM341 360h3v1h-3zM346 360h422v2h-422zM340 361h5v1h-5zM136 341h178v22h-178zM340 362h428v5h-428zM136 363h177v5h-177zM340 367h55v1h-55zM407 367h361v1h-361zM341 368h52v1h-52zM410 368h358v1h-358zM341 369h50v1h-50zM412 369h356v1h-356zM136 368h176v3h-176zM414 370h354v1h-354zM342 370h48v1h-48zM136 371h175v1h-175zM342 371h46v1h-46zM417 371h351v1h-351zM343 372h44v1h-44zM420 372h348v1h-348zM136 372h174v2h-174zM343 373h43v1h-43zM431 373h245v1h-245zM684 373h84v1h-84zM686 374h82v1h-82zM440 374h234v1h-234zM136 374h173v1h-173zM344 374h41v1h-41zM356 375h28v1h-28zM687 375h81v1h-81zM444 375h228v1h-228zM136 375h172v1h-172zM346 375h7v1h-7zM448 376h222v1h-222zM139 376h168v1h-168zM361 376h22v1h-22zM349 376h4v1h-4zM689 376h79v1h-79zM151 377h38v1h-38zM690 377h78v1h-78zM195 377h110v1h-110zM450 377h218v1h-218zM364 377h18v1h-18zM366 378h15v1h-15zM201 378h102v1h-102zM691 378h77v1h-77zM156 378h24v1h-24zM453 378h211v1h-211zM368 379h12v1h-12zM470 379h189v1h-189zM692 379h76v1h-76zM206 379h96v1h-96zM159 379h14v1h-14zM456 379h6v1h-6zM480 380h160v1h-160zM371 380h7v1h-7zM694 380h31v1h-31zM247 380h53v1h-53zM696 381h20v1h-20zM618 381h17v1h-17zM499 381h111v1h-111zM253 381h46v1h-46zM699 382h11v1h-11zM258 382h40v1h-40zM507 382h80v1h-80zM264 383h31v1h-31zM511 383h57v1h-57zM271 384h20v1h-20zM516 384h47v1h-47zM522 385h36v1h-36zM530 386h22v1h-22z"/>
<path fill="#00eaff" d="M549 186h22v1h-22zM539 187h63v1h-63zM136 187h24v1h-24zM691 187h77v1h-77zM530 188h238v1h-238zM136 188h48v1h-48zM136 189h55v1h-55zM520 189h248v1h-248zM136 190h60v1h-60zM512 190h256v1h-256zM136 191h66v1h-66zM504 191h264v1h-264zM136 192h69v1h-69zM496 192h272v1h-272zM136 193h71v1h-71zM488 193h280v1h-280zM483 194h285v1h-285zM136 194h73v1h-73zM136 195h74v1h-74zM478 195h290v1h-290zM136 196h76v1h-76zM474 196h294v1h-294zM470 197h298v1h-298zM136 197h78v1h-78zM467 198h301v1h-301zM136 198h79v2h-79zM463 199h305v1h-305zM136 200h80v1h-80zM460 200h308v1h-308zM136 201h81v1h-81zM458 201h310v1h-310zM456 202h312v1h-312zM136 202h82v2h-82zM454 203h314v1h-314zM452 204h316v1h-316zM136 204h83v1h-83zM449 205h319v1h-319zM447 206h321v1h-321zM445 207h323v1h-323zM136 205h84v4h-84zM443 208h325v1h-325zM441 209h327v1h-327zM437 210h331v1h-331zM432 211h336v1h-336zM427 212h341v1h-341zM136 209h85v5h-85zM421 213h347v1h-347zM392 214h376v1h-376zM389 215h379v1h-379zM385 216h383v1h-383zM382 217h386v1h-386zM379 218h389v1h-389zM136 214h86v6h-86zM376 219h392v1h-392zM374 220h394v1h-394zM372 221h396v1h-396zM371 222h397v1h-397zM370 223h398v1h-398zM368 224h400v1h-400zM136 220h87v6h-87zM367 225h401v1h-401zM365 226h403v1h-403zM364 227h404v1h-404zM363 228h405v1h-405zM136 226h88v4h-88zM361 229h407v1h-407zM360 230h408v1h-408zM359 231h409v1h-409zM358 232h410v1h-410zM357 233h411v1h-411zM356 234h412v1h-412zM355 235h413v1h-413zM354 236h414v1h-414zM353 237h415v1h-415zM352 238h416v2h-416zM351 240h417v3h-417zM136 230h87v14h-87zM350 243h418v1h-418zM349 244h419v1h-419zM348 245h420v1h-420zM347 246h421v2h-421zM346 248h422v2h-422zM136 244h88v8h-88zM345 250h423v3h-423zM136 252h89v6h-89zM344 253h424v8h-424zM136 258h90v5h-90zM136 263h91v6h-91zM136 269h92v5h-92zM343 261h425v14h-425zM276 277h14v1h-14zM136 274h93v5h-93zM344 275h424v4h-424zM270 278h24v1h-24zM266 279h30v1h-30zM263 280h35v1h-35zM261 281h38v1h-38zM345 279h423v4h-423zM136 279h94v4h-94zM259 282h41v1h-41zM257 283h43v1h-43zM256 284h45v1h-45zM254 285h47v1h-47zM346 283h422v4h-422zM136 283h95v4h-95zM253 286h49v1h-49zM252 287h50v1h-50zM347 287h421v3h-421zM136 287h96v3h-96zM251 288h52v2h-52zM250 290h54v1h-54zM136 290h97v2h-97zM348 290h420v2h-420zM249 291h55v1h-55zM248 292h56v1h-56zM136 292h98v2h-98zM349 292h419v2h-419zM247 293h57v1h-57zM247 294h58v1h-58zM136 294h99v2h-99zM350 294h418v2h-418zM246 295h59v1h-59zM245 296h60v1h-60zM136 296h100v1h-100zM351 296h417v2h-417zM244 297h61v1h-61zM136 297h101v1h-101zM136 298h103v1h-103zM243 298h62v1h-62zM352 298h416v1h-416zM353 299h415v2h-415zM355 301h413v1h-413zM356 302h412v1h-412zM136 299h170v5h-170zM358 303h410v1h-410zM360 304h408v1h-408zM364 305h404v1h-404zM365 306h403v1h-403zM136 304h171v4h-171zM366 307h402v1h-402zM367 308h401v2h-401zM136 308h172v5h-172zM136 313h173v5h-173zM368 310h400v11h-400zM136 318h174v6h-174zM367 321h401v4h-401zM366 325h402v3h-402zM365 328h403v3h-403zM136 324h175v8h-175zM364 331h404v3h-404zM363 334h405v2h-405zM136 332h176v7h-176zM362 336h406v3h-406zM361 339h407v2h-407zM360 341h408v2h-408zM359 343h409v2h-409zM358 345h410v2h-410zM357 347h411v2h-411zM356 349h412v2h-412zM355 351h413v2h-413zM354 353h414v3h-414zM353 356h415v2h-415zM354 358h414v2h-414zM355 360h413v2h-413zM136 339h177v24h-177zM356 362h412v1h-412zM405 363h363v1h-363zM357 363h39v1h-39zM358 364h35v1h-35zM408 364h360v1h-360zM358 365h34v1h-34zM410 365h358v1h-358zM359 366h31v1h-31zM412 366h356v1h-356zM136 363h176v5h-176zM413 367h355v1h-355zM360 367h29v1h-29zM360 368h28v1h-28zM415 368h353v1h-353zM136 368h175v2h-175zM361 369h26v1h-26zM417 369h351v1h-351zM682 370h86v1h-86zM361 370h25v1h-25zM419 370h261v1h-261zM136 370h174v2h-174zM685 371h83v1h-83zM433 371h243v1h-243zM362 371h23v1h-23zM687 372h81v1h-81zM441 372h230v1h-230zM136 372h173v1h-173zM363 372h22v1h-22zM141 373h48v1h-48zM444 373h222v1h-222zM364 373h20v1h-20zM197 373h112v1h-112zM688 373h80v1h-80zM365 374h18v1h-18zM154 374h30v1h-30zM447 374h216v1h-216zM690 374h78v1h-78zM200 374h108v1h-108zM156 375h23v1h-23zM203 375h103v1h-103zM732 375h36v1h-36zM450 375h190v1h-190zM648 375h11v1h-11zM692 375h36v1h-36zM366 375h16v1h-16zM205 376h99v1h-99zM367 376h14v1h-14zM452 376h185v1h-185zM693 376h27v1h-27zM158 376h16v1h-16zM250 377h52v1h-52zM694 377h21v1h-21zM472 377h18v1h-18zM368 377h12v1h-12zM507 377h129v1h-129zM161 377h8v1h-8zM455 377h7v1h-7zM696 378h16v1h-16zM510 378h92v1h-92zM254 378h46v1h-46zM370 378h9v1h-9zM622 378h12v1h-12zM698 379h11v1h-11zM628 379h3v1h-3zM257 379h42v1h-42zM512 379h59v1h-59zM372 379h6v1h-6zM261 380h37v1h-37zM515 380h51v1h-51zM267 381h29v1h-29zM519 381h42v1h-42zM526 382h31v1h-31zM274 382h18v1h-18zM533 383h18v1h-18z"/>
<path fill="#00ffff" d="M553 197h20v1h-20zM136 198h32v1h-32zM539 198h229v1h-229zM528 199h240v1h-240zM136 199h50v1h-50zM136 200h57v1h-57zM518 200h250v1h-250zM510 201h258v1h-258zM136 201h62v1h-62zM503 202h265v1h-265zM136 202h66v1h-66zM136 203h69v1h-69zM496 203h272v1h-272zM491 204h277v1h-277zM136 204h71v1h-71zM486 205h282v1h-282zM136 205h73v1h-73zM136 206h75v1h-75zM482 206h286v1h-286zM478 207h290v1h-290zM136 207h76v1h-76zM136 208h77v1h-77zM475 208h293v1h-293zM136 209h78v1h-78zM472 209h296v1h-296zM469 210h299v1h-299zM136 210h79v2h-79zM467 211h301v1h-301zM136 212h80v1h-80zM464 212h304v1h-304zM462 213h306v1h-306zM460 214h308v1h-308zM136 213h81v3h-81zM458 215h310v1h-310zM456 216h312v1h-312zM454 217h314v1h-314zM136 216h82v3h-82zM452 218h316v1h-316zM450 219h318v1h-318zM448 220h320v1h-320zM445 221h323v1h-323zM442 222h326v1h-326zM136 219h83v5h-83zM439 223h329v1h-329zM435 224h333v1h-333zM395 224h20v1h-20zM390 225h378v1h-378zM386 226h382v1h-382zM383 227h385v1h-385zM380 228h388v1h-388zM377 229h391v1h-391zM375 230h393v1h-393zM373 231h395v1h-395zM371 232h397v1h-397zM370 233h398v1h-398zM368 234h400v1h-400zM367 235h401v1h-401zM365 236h403v1h-403zM364 237h404v1h-404zM363 238h405v1h-405zM361 239h407v1h-407zM360 240h408v1h-408zM136 224h84v18h-84zM359 241h409v1h-409zM357 242h411v1h-411zM356 243h412v1h-412zM354 244h414v1h-414zM351 245h417v1h-417zM349 246h419v1h-419zM348 247h420v2h-420zM136 242h85v8h-85zM347 249h421v2h-421zM346 251h422v3h-422zM136 250h86v6h-86zM136 256h87v6h-87zM345 254h423v10h-423zM136 262h88v5h-88zM136 267h89v6h-89zM344 264h424v10h-424zM136 273h90v5h-90zM345 274h423v4h-423zM279 279h10v1h-10zM272 280h23v1h-23zM136 278h91v4h-91zM346 278h422v4h-422zM268 281h29v1h-29zM265 282h33v1h-33zM262 283h37v1h-37zM260 284h40v1h-40zM136 282h92v4h-92zM347 282h421v4h-421zM258 285h42v1h-42zM257 286h44v1h-44zM255 287h46v1h-46zM348 286h420v3h-420zM254 288h48v1h-48zM136 286h93v4h-93zM253 289h49v1h-49zM349 289h419v2h-419zM252 290h51v1h-51zM251 291h52v1h-52zM136 290h94v3h-94zM350 291h418v2h-418zM250 292h53v1h-53zM249 293h54v1h-54zM136 293h95v2h-95zM351 293h417v2h-417zM248 294h56v1h-56zM247 295h57v2h-57zM352 295h416v2h-416zM136 295h96v2h-96zM246 297h58v1h-58zM136 297h97v1h-97zM353 297h415v2h-415zM245 298h59v1h-59zM136 298h98v2h-98zM245 299h60v1h-60zM354 299h414v1h-414zM243 300h62v1h-62zM136 300h100v1h-100zM355 300h413v1h-413zM356 301h412v1h-412zM136 301h101v1h-101zM242 301h63v1h-63zM358 302h410v1h-410zM136 302h169v2h-169zM366 303h402v1h-402zM368 304h400v1h-400zM369 305h399v2h-399zM136 304h170v4h-170zM136 308h171v5h-171zM370 307h398v10h-398zM136 313h172v4h-172zM369 317h399v4h-399zM136 317h173v6h-173zM368 321h400v3h-400zM367 324h401v4h-401zM136 323h174v8h-174zM366 328h402v3h-402zM365 331h403v3h-403zM364 334h404v2h-404zM363 336h405v2h-405zM136 331h175v8h-175zM362 338h406v3h-406zM361 341h407v2h-407zM360 343h408v2h-408zM359 345h409v2h-409zM358 347h410v2h-410zM357 349h411v3h-411zM356 352h412v2h-412zM355 354h413v3h-413zM356 357h412v1h-412zM405 358h363v1h-363zM356 358h39v1h-39zM407 359h361v1h-361zM358 359h35v1h-35zM408 360h360v1h-360zM359 360h32v1h-32zM410 361h358v1h-358zM361 361h29v1h-29zM136 339h176v24h-176zM362 362h27v1h-27zM411 362h357v1h-357zM412 363h356v1h-356zM362 363h26v1h-26zM136 363h175v2h-175zM413 364h355v1h-355zM363 364h24v2h-24zM415 365h353v1h-353zM136 365h15v1h-15zM152 365h159v1h-159zM416 366h266v1h-266zM364 366h22v1h-22zM153 366h158v1h-158zM136 366h14v1h-14zM684 366h84v1h-84zM364 367h21v1h-21zM136 367h13v1h-13zM417 367h262v1h-262zM685 367h83v1h-83zM155 367h156v1h-156zM155 368h34v1h-34zM198 368h112v1h-112zM644 368h33v1h-33zM136 368h12v1h-12zM365 368h20v1h-20zM418 368h219v1h-219zM686 368h82v1h-82zM420 369h6v1h-6zM365 369h19v1h-19zM506 369h129v1h-129zM440 369h63v1h-63zM200 369h110v1h-110zM646 369h17v1h-17zM140 369h8v1h-8zM687 369h81v1h-81zM156 369h31v1h-31zM444 370h56v1h-56zM366 370h18v1h-18zM648 370h13v1h-13zM143 370h4v1h-4zM202 370h107v1h-107zM689 370h35v1h-35zM157 370h28v1h-28zM748 370h20v1h-20zM508 370h127v1h-127zM734 370h9v1h-9zM446 371h51v1h-51zM366 371h17v1h-17zM650 371h9v1h-9zM157 371h23v1h-23zM204 371h105v1h-105zM509 371h125v1h-125zM691 371h28v1h-28zM158 372h17v1h-17zM449 372h45v1h-45zM510 372h123v1h-123zM692 372h23v1h-23zM205 372h103v1h-103zM367 372h15v2h-15zM159 373h13v1h-13zM207 373h6v1h-6zM451 373h39v1h-39zM250 373h57v1h-57zM694 373h19v1h-19zM619 373h14v1h-14zM511 373h96v1h-96zM224 373h16v1h-16zM160 374h9v1h-9zM471 374h11v1h-11zM368 374h13v1h-13zM622 374h10v1h-10zM695 374h16v1h-16zM453 374h10v1h-10zM209 374h1v1h-1zM253 374h53v1h-53zM512 374h91v1h-91zM625 375h7v1h-7zM697 375h13v1h-13zM455 375h6v1h-6zM369 375h12v1h-12zM255 375h48v1h-48zM514 375h57v1h-57zM629 376h2v1h-2zM370 376h10v1h-10zM515 376h51v1h-51zM258 376h42v1h-42zM698 376h9v1h-9zM371 377h8v1h-8zM519 377h43v1h-43zM261 377h37v1h-37zM267 378h29v1h-29zM526 378h33v1h-33zM373 378h4v1h-4zM273 379h22v1h-22zM530 379h26v1h-26zM280 380h10v1h-10z"/>
<path fill="#00fddc" d="M724 209h44v1h-44zM633 209h30v1h-30zM544 209h40v1h-40zM136 209h34v1h-34zM532 210h236v1h-236zM136 210h53v1h-53zM136 211h65v1h-65zM520 211h248v1h-248zM511 212h257v1h-257zM136 212h71v1h-71zM505 213h263v1h-263zM136 213h73v1h-73zM136 214h74v1h-74zM498 214h270v1h-270zM136 215h75v1h-75zM492 215h276v1h-276zM486 216h282v1h-282zM136 216h76v1h-76zM136 217h77v1h-77zM482 217h286v1h-286zM480 218h288v1h-288zM478 219h290v1h-290zM136 218h78v3h-78zM475 220h293v1h-293zM473 221h295v1h-295zM470 222h298v1h-298zM468 223h300v1h-300zM136 221h79v4h-79zM466 224h302v1h-302zM465 225h303v1h-303zM463 226h305v1h-305zM462 227h306v1h-306zM461 228h307v1h-307zM460 229h308v1h-308zM459 230h309v1h-309zM458 231h310v1h-310zM136 225h80v8h-80zM456 232h312v1h-312zM398 233h8v1h-8zM455 233h313v1h-313zM454 234h314v1h-314zM392 234h19v1h-19zM452 235h316v1h-316zM387 235h27v1h-27zM451 236h317v1h-317zM384 236h32v1h-32zM381 237h37v1h-37zM450 237h318v1h-318zM448 238h320v1h-320zM378 238h42v1h-42zM376 239h46v1h-46zM446 239h322v1h-322zM444 240h324v1h-324zM374 240h50v1h-50zM372 241h53v1h-53zM443 241h325v1h-325zM136 233h81v10h-81zM371 242h56v1h-56zM440 242h328v1h-328zM438 243h330v1h-330zM369 243h59v1h-59zM367 244h64v1h-64zM433 244h335v1h-335zM366 245h402v2h-402zM365 247h403v1h-403zM136 243h82v7h-82zM364 248h404v2h-404zM363 250h405v1h-405zM362 251h406v2h-406zM350 251h2v2h-2zM361 253h407v1h-407zM349 253h4v1h-4zM136 250h83v5h-83zM360 254h408v1h-408zM349 254h5v1h-5zM348 255h7v1h-7zM359 255h409v1h-409zM348 256h8v1h-8zM358 256h410v1h-410zM136 255h84v5h-84zM348 257h420v7h-420zM136 260h85v5h-85zM136 265h86v5h-86zM136 270h87v4h-87zM347 264h421v11h-421zM136 274h88v5h-88zM348 275h420v5h-420zM136 279h89v4h-89zM349 280h419v3h-419zM276 282h19v1h-19zM271 283h25v1h-25zM267 284h31v1h-31zM264 285h35v1h-35zM350 283h418v4h-418zM262 286h37v1h-37zM136 283h90v5h-90zM260 287h40v1h-40zM258 288h42v1h-42zM351 287h417v3h-417zM256 289h45v1h-45zM255 290h46v1h-46zM136 288h91v4h-91zM352 290h416v2h-416zM254 291h48v1h-48zM353 292h415v1h-415zM253 292h49v1h-49zM252 293h50v1h-50zM354 293h8v1h-8zM367 293h401v1h-401zM136 292h92v3h-92zM354 294h7v1h-7zM370 294h398v1h-398zM250 294h53v2h-53zM372 295h396v1h-396zM355 295h6v2h-6zM249 296h54v1h-54zM373 296h395v1h-395zM136 295h93v3h-93zM356 297h5v1h-5zM248 297h55v2h-55zM357 298h4v1h-4zM359 299h1v1h-1zM374 297h394v4h-394zM136 298h94v3h-94zM247 299h57v2h-57zM246 301h58v2h-58zM373 301h395v2h-395zM136 301h95v2h-95zM246 303h59v1h-59zM136 303h96v2h-96zM374 303h394v4h-394zM245 304h60v3h-60zM136 305h97v3h-97zM244 307h61v1h-61zM136 308h98v2h-98zM244 308h62v3h-62zM243 311h63v1h-63zM136 310h99v3h-99zM373 307h395v7h-395zM243 312h64v2h-64zM136 313h100v2h-100zM136 315h101v1h-101zM242 314h65v3h-65zM372 314h396v4h-396zM136 316h102v2h-102zM242 317h66v1h-66zM136 318h103v1h-103zM241 318h67v2h-67zM136 319h104v1h-104zM371 318h397v3h-397zM136 320h172v3h-172zM370 321h398v3h-398zM369 324h399v3h-399zM136 323h173v7h-173zM368 327h400v4h-400zM367 331h401v3h-401zM366 334h402v2h-402zM136 330h174v8h-174zM365 336h403v3h-403zM364 339h404v3h-404zM363 342h405v2h-405zM362 344h406v3h-406zM361 347h407v2h-407zM361 349h32v1h-32zM403 349h365v1h-365zM367 350h24v1h-24zM405 350h363v1h-363zM361 350h2v1h-2zM407 351h361v1h-361zM367 351h23v1h-23zM368 352h21v1h-21zM408 352h360v1h-360zM368 353h20v1h-20zM409 353h359v1h-359zM369 354h18v1h-18zM410 354h358v2h-358zM369 355h17v2h-17zM411 356h357v1h-357zM412 357h356v1h-356zM369 357h16v2h-16zM136 338h175v22h-175zM413 358h355v2h-355zM370 359h14v1h-14zM136 360h13v1h-13zM154 360h157v1h-157zM414 360h354v1h-354zM370 360h13v2h-13zM415 361h265v1h-265zM685 361h83v1h-83zM155 361h156v1h-156zM136 361h12v2h-12zM197 362h113v1h-113zM416 362h220v1h-220zM156 362h34v1h-34zM686 362h82v1h-82zM644 362h34v1h-34zM370 362h12v2h-12zM199 363h111v1h-111zM417 363h18v1h-18zM646 363h17v1h-17zM687 363h81v1h-81zM438 363h64v1h-64zM507 363h128v1h-128zM138 363h9v1h-9zM157 363h31v1h-31zM648 364h13v1h-13zM689 364h36v1h-36zM734 364h11v1h-11zM443 364h56v1h-56zM508 364h126v1h-126zM201 364h109v1h-109zM157 364h29v1h-29zM142 364h4v1h-4zM418 364h13v1h-13zM748 364h20v1h-20zM755 365h13v1h-13zM158 365h25v1h-25zM203 365h107v1h-107zM445 365h52v1h-52zM419 365h10v1h-10zM651 365h7v1h-7zM510 365h123v1h-123zM690 365h29v1h-29zM370 364h11v3h-11zM420 366h6v1h-6zM511 366h121v1h-121zM158 366h20v1h-20zM205 366h104v1h-104zM448 366h46v1h-46zM692 366h23v1h-23zM450 367h40v1h-40zM512 367h96v1h-96zM618 367h14v1h-14zM159 367h15v1h-15zM223 367h18v1h-18zM206 367h9v1h-9zM694 367h19v1h-19zM250 367h59v1h-59zM370 367h10v2h-10zM471 368h11v1h-11zM513 368h90v1h-90zM622 368h10v1h-10zM695 368h16v1h-16zM208 368h3v1h-3zM453 368h10v1h-10zM160 368h11v1h-11zM252 368h56v1h-56zM255 369h53v1h-53zM697 369h12v1h-12zM455 369h6v1h-6zM625 369h6v1h-6zM514 369h58v1h-58zM165 369h1v1h-1zM371 369h8v2h-8zM698 370h9v1h-9zM257 370h50v1h-50zM515 370h51v1h-51zM371 371h7v1h-7zM519 371h43v1h-43zM260 371h47v1h-47zM265 372h40v1h-40zM526 372h33v1h-33zM372 372h6v1h-6zM530 373h26v1h-26zM270 373h32v1h-32zM373 373h4v1h-4zM374 374h3v1h-3zM276 374h18v1h-18zM284 375h2v1h-2z"/>
<path fill="#00fbc6" d="M136 219h15v1h-15zM136 220h37v1h-37zM737 221h31v1h-31zM136 221h45v1h-45zM539 222h229v1h-229zM136 222h50v1h-50zM524 223h244v1h-244zM136 223h54v1h-54zM136 224h57v1h-57zM514 224h254v1h-254zM505 225h263v1h-263zM136 225h60v1h-60zM136 226h61v1h-61zM499 226h269v1h-269zM136 227h63v1h-63zM493 227h275v1h-275zM136 228h65v1h-65zM488 228h280v1h-280zM484 229h284v1h-284zM136 229h66v1h-66zM480 230h288v1h-288zM136 230h67v1h-67zM136 231h68v1h-68zM477 231h291v1h-291zM136 232h69v1h-69zM474 232h294v1h-294zM136 233h70v1h-70zM472 233h296v1h-296zM469 234h299v1h-299zM136 234h71v2h-71zM467 235h301v1h-301zM465 236h303v1h-303zM136 236h72v1h-72zM463 237h305v1h-305zM136 237h73v2h-73zM461 238h307v1h-307zM459 239h309v1h-309zM136 239h74v2h-74zM457 240h311v1h-311zM455 241h313v1h-313zM136 241h75v2h-75zM453 242h315v1h-315zM451 243h317v1h-317zM136 243h76v2h-76zM448 244h320v1h-320zM446 245h322v1h-322zM399 245h17v1h-17zM136 245h77v2h-77zM443 246h325v1h-325zM395 246h25v1h-25zM440 247h328v1h-328zM393 247h31v1h-31zM390 248h38v1h-38zM435 248h333v1h-333zM136 247h78v3h-78zM388 249h380v1h-380zM387 250h381v1h-381zM136 250h79v2h-79zM385 251h383v1h-383zM384 252h384v1h-384zM383 253h385v1h-385zM136 252h80v3h-80zM381 254h387v1h-387zM380 255h388v1h-388zM379 256h389v1h-389zM136 255h81v3h-81zM378 257h390v2h-390zM377 259h391v1h-391zM376 260h392v1h-392zM136 258h82v4h-82zM375 261h393v2h-393zM136 262h83v3h-83zM374 263h394v2h-394zM373 265h395v3h-395zM136 265h84v3h-84zM372 268h396v3h-396zM136 268h85v4h-85zM136 272h86v4h-86zM371 271h397v8h-397zM136 276h87v5h-87zM372 279h396v3h-396zM136 281h88v4h-88zM373 282h395v3h-395zM281 284h7v1h-7zM275 285h18v1h-18zM374 285h394v2h-394zM271 286h24v1h-24zM268 287h28v1h-28zM375 287h393v2h-393zM265 288h33v1h-33zM136 285h89v5h-89zM263 289h35v1h-35zM376 289h392v1h-392zM261 290h38v1h-38zM377 290h391v2h-391zM260 291h40v1h-40zM258 292h43v1h-43zM136 290h90v4h-90zM257 293h44v1h-44zM378 292h390v3h-390zM256 294h45v1h-45zM255 295h47v1h-47zM136 294h91v3h-91zM254 296h48v1h-48zM379 295h389v3h-389zM253 297h49v1h-49zM252 298h50v1h-50zM136 297h92v3h-92zM252 299h51v1h-51zM251 300h52v2h-52zM136 300h93v3h-93zM250 302h53v1h-53zM250 303h54v1h-54zM380 298h388v7h-388zM136 303h94v3h-94zM249 304h55v3h-55zM249 307h56v1h-56zM136 306h95v3h-95zM248 308h57v4h-57zM136 309h96v3h-96zM381 305h387v8h-387zM248 312h58v1h-58zM136 312h97v3h-97zM247 313h59v4h-59zM136 315h98v3h-98zM247 317h60v1h-60zM382 313h386v6h-386zM136 318h99v2h-99zM246 318h61v3h-61zM245 321h62v1h-62zM383 319h385v4h-385zM136 320h100v3h-100zM245 322h63v2h-63zM384 323h384v2h-384zM136 323h101v2h-101zM244 324h64v1h-64zM136 325h102v1h-102zM243 325h65v1h-65zM385 325h383v2h-383zM136 326h103v1h-103zM242 326h66v1h-66zM386 327h382v2h-382zM136 327h172v2h-172zM387 329h381v1h-381zM388 330h380v2h-380zM389 332h379v1h-379zM390 333h378v1h-378zM391 334h377v1h-377zM393 335h375v1h-375zM394 336h374v1h-374zM396 337h372v1h-372zM136 329h173v10h-173zM398 338h370v1h-370zM400 339h368v1h-368zM402 340h366v1h-366zM404 341h364v1h-364zM406 342h362v1h-362zM408 343h360v1h-360zM410 344h358v1h-358zM411 345h357v1h-357zM413 346h355v1h-355zM414 347h354v1h-354zM416 348h352v1h-352zM418 349h350v1h-350zM419 350h349v1h-349zM136 339h174v13h-174zM421 351h347v1h-347zM423 352h345v1h-345zM426 353h342v1h-342zM430 354h338v1h-338zM436 355h332v1h-332zM136 352h173v5h-173zM687 356h81v1h-81zM442 356h233v1h-233zM447 357h188v1h-188zM690 357h78v1h-78zM136 357h172v1h-172zM648 357h13v1h-13zM452 358h45v1h-45zM508 358h123v1h-123zM154 358h154v1h-154zM693 358h75v1h-75zM136 358h11v1h-11zM136 359h10v1h-10zM156 359h151v1h-151zM459 359h31v1h-31zM512 359h115v1h-115zM750 359h18v1h-18zM697 359h19v1h-19zM515 360h100v1h-100zM157 360h32v1h-32zM703 360h4v1h-4zM199 360h108v1h-108zM138 360h6v1h-6zM159 361h26v1h-26zM518 361h81v1h-81zM202 361h32v1h-32zM249 361h57v1h-57zM206 362h12v1h-12zM252 362h54v1h-54zM160 362h22v1h-22zM521 362h50v1h-50zM526 363h36v1h-36zM161 363h16v1h-16zM255 363h50v1h-50zM257 364h47v1h-47zM164 364h7v1h-7zM533 364h21v1h-21zM260 365h43v1h-43zM263 366h39v1h-39zM266 367h34v1h-34zM270 368h28v1h-28zM276 369h17v1h-17z"/>
<path fill="#00fab0" d="M136 229h9v1h-9zM136 230h33v1h-33zM136 231h41v1h-41zM136 232h47v1h-47zM136 233h50v1h-50zM136 234h53v1h-53zM556 234h212v1h-212zM528 235h240v1h-240zM136 235h56v1h-56zM136 236h58v1h-58zM513 236h255v1h-255zM503 237h265v1h-265zM136 237h60v1h-60zM494 238h274v1h-274zM136 238h62v1h-62zM136 239h63v1h-63zM488 239h280v1h-280zM483 240h285v1h-285zM136 240h65v1h-65zM478 241h290v1h-290zM136 241h66v1h-66zM136 242h67v1h-67zM474 242h294v1h-294zM136 243h68v1h-68zM470 243h298v1h-298zM136 244h69v1h-69zM466 244h302v1h-302zM136 245h70v1h-70zM463 245h305v1h-305zM460 246h308v1h-308zM136 246h71v1h-71zM456 247h312v1h-312zM136 247h72v1h-72zM453 248h315v1h-315zM136 248h73v1h-73zM449 249h319v1h-319zM136 249h74v2h-74zM445 250h323v1h-323zM136 251h75v1h-75zM440 251h328v1h-328zM413 252h8v1h-8zM434 252h334v1h-334zM136 252h76v2h-76zM405 253h363v1h-363zM402 254h366v1h-366zM136 254h77v2h-77zM399 255h369v1h-369zM397 256h371v1h-371zM136 256h78v2h-78zM395 257h373v1h-373zM394 258h374v1h-374zM136 258h79v2h-79zM392 259h376v1h-376zM391 260h377v1h-377zM136 260h80v2h-80zM390 261h378v1h-378zM389 262h379v1h-379zM136 262h81v2h-81zM388 263h380v1h-380zM387 264h381v1h-381zM136 264h82v3h-82zM386 265h382v2h-382zM385 267h383v1h-383zM136 267h83v2h-83zM384 268h384v2h-384zM136 269h84v3h-84zM383 270h385v3h-385zM136 272h85v5h-85zM136 277h86v4h-86zM382 273h386v13h-386zM136 281h87v5h-87zM280 287h9v1h-9zM274 288h18v1h-18zM383 286h385v4h-385zM136 286h88v4h-88zM271 289h24v1h-24zM268 290h28v1h-28zM266 291h32v1h-32zM384 290h384v3h-384zM264 292h35v1h-35zM136 290h89v4h-89zM263 293h36v1h-36zM261 294h39v1h-39zM385 293h383v3h-383zM260 295h41v1h-41zM259 296h42v1h-42zM136 294h90v4h-90zM258 297h43v1h-43zM257 298h44v1h-44zM386 296h382v4h-382zM256 299h46v1h-46zM136 298h91v3h-91zM255 300h47v2h-47zM387 300h381v3h-381zM254 302h48v1h-48zM136 301h92v3h-92zM254 303h49v1h-49zM388 303h380v4h-380zM136 304h93v3h-93zM253 304h50v3h-50zM252 307h52v3h-52zM389 307h379v3h-379zM136 307h94v4h-94zM251 310h53v2h-53zM390 310h378v2h-378zM136 311h95v3h-95zM391 312h377v3h-377zM251 312h54v3h-54zM136 314h96v3h-96zM392 315h376v2h-376zM250 315h55v2h-55zM393 317h375v2h-375zM136 317h97v3h-97zM250 317h56v3h-56zM394 319h374v2h-374zM249 320h57v2h-57zM395 321h373v1h-373zM136 320h98v3h-98zM249 322h58v1h-58zM396 322h372v2h-372zM397 324h371v1h-371zM136 323h99v3h-99zM248 323h59v3h-59zM398 325h370v1h-370zM247 326h60v1h-60zM399 326h369v1h-369zM136 326h100v1h-100zM400 327h368v1h-368zM246 327h61v1h-61zM136 327h101v2h-101zM245 328h62v1h-62zM401 328h367v1h-367zM402 329h366v1h-366zM136 329h103v1h-103zM244 329h64v1h-64zM403 330h365v1h-365zM405 331h363v1h-363zM406 332h362v1h-362zM407 333h361v1h-361zM409 334h359v1h-359zM410 335h358v1h-358zM412 336h356v1h-356zM414 337h354v1h-354zM415 338h353v1h-353zM417 339h351v1h-351zM419 340h349v1h-349zM421 341h347v1h-347zM423 342h345v1h-345zM425 343h343v1h-343zM428 344h340v1h-340zM431 345h337v1h-337zM434 346h334v1h-334zM438 347h330v1h-330zM442 348h326v1h-326zM448 349h320v1h-320zM455 350h221v1h-221zM684 350h84v1h-84zM136 330h172v22h-172zM465 351h172v1h-172zM693 351h75v1h-75zM136 352h171v1h-171zM701 352h67v1h-67zM510 352h117v1h-117zM136 353h102v1h-102zM733 353h35v1h-35zM516 353h97v1h-97zM246 353h61v1h-61zM136 354h98v1h-98zM522 354h63v1h-63zM249 354h58v1h-58zM251 355h55v1h-55zM136 355h94v1h-94zM531 355h30v1h-30zM254 356h52v1h-52zM136 356h90v1h-90zM256 357h49v1h-49zM136 357h10v1h-10zM155 357h66v1h-66zM158 358h31v1h-31zM258 358h46v1h-46zM201 358h14v1h-14zM160 359h24v1h-24zM260 359h43v1h-43zM163 360h15v1h-15zM262 360h40v1h-40zM264 361h37v1h-37zM266 362h33v1h-33zM269 363h28v1h-28zM273 364h22v1h-22zM279 365h10v1h-10z"/>
<path fill="#00fa9a" d="M136 240h36v1h-36zM136 241h45v1h-45zM136 242h49v1h-49zM136 243h53v1h-53zM136 244h56v1h-56zM136 245h58v1h-58zM136 246h61v1h-61zM136 247h63v1h-63zM531 247h237v1h-237zM505 248h263v1h-263zM136 248h65v1h-65zM490 249h278v1h-278zM136 249h67v1h-67zM136 250h68v1h-68zM480 250h288v1h-288zM136 251h70v1h-70zM471 251h297v1h-297zM136 252h71v1h-71zM464 252h304v1h-304zM457 253h311v1h-311zM136 253h72v1h-72zM449 254h319v1h-319zM136 254h73v1h-73zM136 255h74v1h-74zM441 255h327v1h-327zM434 256h334v1h-334zM136 256h75v2h-75zM427 257h341v1h-341zM418 258h350v1h-350zM136 258h76v1h-76zM411 259h357v1h-357zM136 259h77v2h-77zM407 260h361v1h-361zM404 261h364v1h-364zM136 261h78v2h-78zM402 262h366v1h-366zM400 263h368v1h-368zM136 263h79v2h-79zM399 264h369v1h-369zM136 265h80v1h-80zM398 265h370v1h-370zM396 266h372v1h-372zM136 266h81v2h-81zM395 267h373v1h-373zM394 268h374v1h-374zM136 268h82v2h-82zM393 269h375v2h-375zM136 270h83v2h-83zM392 271h376v1h-376zM391 272h377v1h-377zM390 273h378v2h-378zM136 272h84v5h-84zM389 275h379v3h-379zM136 277h85v4h-85zM388 278h380v6h-380zM136 281h86v5h-86zM389 284h379v4h-379zM284 289h1v1h-1zM136 286h87v5h-87zM390 288h378v3h-378zM278 290h12v1h-12zM274 291h19v1h-19zM270 292h25v1h-25zM391 291h377v3h-377zM268 293h29v1h-29zM136 291h88v4h-88zM266 294h33v1h-33zM265 295h34v1h-34zM392 294h376v3h-376zM264 296h36v1h-36zM136 295h89v3h-89zM262 297h38v1h-38zM261 298h39v1h-39zM393 297h375v3h-375zM260 299h41v1h-41zM136 298h90v4h-90zM394 300h374v2h-374zM259 300h42v2h-42zM258 302h43v1h-43zM395 302h373v2h-373zM136 302h91v3h-91zM257 303h45v2h-45zM396 304h372v3h-372zM256 305h46v2h-46zM256 307h47v1h-47zM136 305h92v4h-92zM397 307h371v2h-371zM398 309h370v1h-370zM255 308h48v4h-48zM136 309h93v3h-93zM399 310h369v2h-369zM400 312h368v2h-368zM136 312h94v4h-94zM401 314h367v2h-367zM254 312h50v5h-50zM402 316h366v1h-366zM403 317h365v1h-365zM136 316h95v3h-95zM254 317h51v2h-51zM404 318h364v2h-364zM405 320h363v1h-363zM406 321h362v1h-362zM253 319h52v4h-52zM407 322h361v1h-361zM253 323h53v1h-53zM408 323h360v1h-360zM136 319h96v6h-96zM409 324h359v1h-359zM410 325h358v1h-358zM411 326h357v1h-357zM252 324h54v4h-54zM412 327h356v1h-356zM414 328h354v1h-354zM136 325h97v5h-97zM251 328h55v2h-55zM415 329h353v1h-353zM251 330h56v1h-56zM417 330h351v1h-351zM419 331h349v1h-349zM136 330h98v3h-98zM421 332h347v1h-347zM423 333h345v1h-345zM250 331h57v4h-57zM136 333h99v2h-99zM425 334h343v1h-343zM427 335h341v1h-341zM429 336h339v1h-339zM432 337h336v1h-336zM434 338h334v1h-334zM437 339h331v1h-331zM442 340h326v1h-326zM249 335h58v7h-58zM447 341h321v1h-321zM136 335h100v8h-100zM456 342h312v1h-312zM250 342h57v1h-57zM467 343h301v1h-301zM136 343h99v1h-99zM251 343h56v2h-56zM486 344h282v1h-282zM136 344h98v1h-98zM136 345h97v1h-97zM508 345h132v1h-132zM705 345h63v1h-63zM252 345h55v1h-55zM518 346h94v1h-94zM253 346h54v1h-54zM724 346h44v1h-44zM136 346h96v1h-96zM730 347h38v1h-38zM254 347h53v1h-53zM136 347h95v1h-95zM534 347h27v1h-27zM736 348h32v1h-32zM136 348h94v1h-94zM255 348h51v1h-51zM256 349h50v1h-50zM136 349h93v1h-93zM136 350h91v1h-91zM257 350h49v1h-49zM136 351h88v1h-88zM258 351h48v1h-48zM136 352h85v1h-85zM259 352h46v1h-46zM136 353h82v1h-82zM260 353h45v1h-45zM261 354h43v1h-43zM136 354h78v1h-78zM263 355h40v1h-40zM136 355h73v1h-73zM158 356h31v1h-31zM265 356h37v1h-37zM162 357h18v1h-18zM266 357h34v1h-34zM268 358h31v1h-31zM271 359h26v1h-26zM273 360h22v1h-22zM283 361h2v1h-2z"/>
<path fill="#00f984" d="M136 250h47v1h-47zM136 251h51v1h-51zM136 252h55v1h-55zM136 253h60v1h-60zM136 254h63v1h-63zM136 255h67v1h-67zM136 256h69v1h-69zM136 257h71v2h-71zM136 259h72v1h-72zM438 260h330v1h-330zM136 260h73v1h-73zM434 261h334v1h-334zM136 261h74v2h-74zM429 262h339v1h-339zM136 263h75v1h-75zM424 263h344v1h-344zM136 264h76v1h-76zM419 264h349v1h-349zM415 265h353v1h-353zM136 265h77v2h-77zM410 266h358v1h-358zM407 267h361v1h-361zM136 267h78v1h-78zM404 268h364v1h-364zM136 268h79v1h-79zM403 269h365v1h-365zM136 269h80v2h-80zM402 270h366v1h-366zM401 271h367v1h-367zM136 271h81v2h-81zM400 272h368v1h-368zM399 273h369v1h-369zM398 274h370v1h-370zM397 275h371v1h-371zM136 273h82v4h-82zM396 276h372v1h-372zM395 277h373v2h-373zM136 277h83v4h-83zM394 279h374v4h-374zM136 281h84v4h-84zM395 283h373v3h-373zM396 286h372v2h-372zM136 285h85v5h-85zM397 288h371v3h-371zM398 291h370v2h-370zM136 290h86v4h-86zM280 293h9v1h-9zM276 294h16v1h-16zM399 293h369v3h-369zM272 295h23v1h-23zM269 296h28v1h-28zM136 294h87v4h-87zM400 296h368v2h-368zM268 297h30v1h-30zM267 298h31v1h-31zM401 298h367v2h-367zM265 299h33v1h-33zM264 300h35v1h-35zM136 298h88v4h-88zM402 300h366v2h-366zM263 301h36v1h-36zM262 302h37v1h-37zM403 302h365v1h-365zM262 303h38v1h-38zM404 303h364v2h-364zM261 304h39v1h-39zM136 302h89v4h-89zM260 305h40v1h-40zM405 305h363v2h-363zM406 307h362v1h-362zM259 306h42v4h-42zM136 306h90v4h-90zM407 308h361v2h-361zM259 310h43v1h-43zM408 310h360v1h-360zM136 310h91v3h-91zM409 311h359v2h-359zM410 313h358v1h-358zM258 311h44v4h-44zM411 314h357v2h-357zM136 313h92v4h-92zM412 316h356v2h-356zM413 318h355v1h-355zM414 319h354v1h-354zM258 315h45v6h-45zM136 317h93v4h-93zM415 320h353v1h-353zM416 321h352v1h-352zM258 321h46v2h-46zM418 322h350v1h-350zM136 321h94v3h-94zM420 323h348v1h-348zM422 324h346v1h-346zM424 325h344v1h-344zM426 326h342v1h-342zM257 323h47v5h-47zM428 327h340v1h-340zM431 328h337v1h-337zM433 329h335v1h-335zM136 324h93v7h-93zM435 330h333v1h-333zM257 328h48v4h-48zM437 331h331v1h-331zM439 332h329v1h-329zM446 333h322v1h-322zM460 334h308v1h-308zM258 332h47v4h-47zM473 335h295v1h-295zM136 331h92v6h-92zM486 336h282v1h-282zM500 337h268v1h-268zM259 336h46v3h-46zM706 338h62v1h-62zM513 338h141v1h-141zM726 339h42v1h-42zM728 340h40v1h-40zM136 337h91v5h-91zM260 339h45v3h-45zM729 341h39v1h-39zM731 342h37v1h-37zM136 342h90v2h-90zM736 343h27v1h-27zM261 342h44v3h-44zM136 344h89v1h-89zM136 345h88v1h-88zM136 346h86v1h-86zM262 345h42v3h-42zM136 347h84v1h-84zM136 348h81v1h-81zM263 348h41v1h-41zM264 349h39v1h-39zM136 349h78v1h-78zM265 350h38v1h-38zM136 350h75v1h-75zM266 351h37v1h-37zM136 351h73v1h-73zM136 352h70v1h-70zM268 352h33v1h-33zM146 353h50v1h-50zM269 353h31v1h-31zM163 354h16v1h-16zM271 354h27v1h-27zM273 355h23v1h-23zM275 356h19v1h-19z"/>
<path fill="#00f766" d="M430 274h12v1h-12zM426 275h37v1h-37zM422 276h57v1h-57zM419 277h72v1h-72zM417 278h87v1h-87zM414 279h102v1h-102zM411 280h162v1h-162zM195 280h4v1h-4zM184 281h17v1h-17zM412 281h181v1h-181zM173 282h29v1h-29zM412 282h191v1h-191zM161 283h42v1h-42zM412 283h194v1h-194zM150 284h54v1h-54zM413 284h197v1h-197zM136 285h68v1h-68zM413 285h200v1h-200zM136 286h69v1h-69zM414 286h201v1h-201zM136 287h70v1h-70zM675 287h7v1h-7zM414 287h204v1h-204zM415 288h207v1h-207zM664 288h24v1h-24zM136 288h71v1h-71zM415 289h209v1h-209zM136 289h72v1h-72zM657 289h36v1h-36zM653 290h44v1h-44zM416 290h209v1h-209zM136 290h73v2h-73zM652 291h49v1h-49zM417 291h209v2h-209zM136 292h74v1h-74zM652 292h51v1h-51zM136 293h75v1h-75zM652 293h52v2h-52zM418 293h208v2h-208zM136 294h76v2h-76zM652 295h51v1h-51zM419 295h208v2h-208zM136 296h77v1h-77zM420 297h207v1h-207zM136 297h78v1h-78zM653 296h50v3h-50zM421 298h206v2h-206zM136 298h79v2h-79zM422 300h205v1h-205zM654 299h49v3h-49zM423 301h204v1h-204zM424 302h203v1h-203zM655 302h48v1h-48zM136 300h80v4h-80zM425 303h202v1h-202zM657 303h45v1h-45zM426 304h202v1h-202zM660 304h42v1h-42zM427 305h201v1h-201zM665 305h34v1h-34zM672 306h23v1h-23zM428 306h200v1h-200zM678 307h7v1h-7zM429 307h199v1h-199zM279 307h6v1h-6zM276 308h10v1h-10zM430 308h198v1h-198zM136 304h81v6h-81zM431 309h196v1h-196zM274 309h14v1h-14zM432 310h195v1h-195zM273 310h17v1h-17zM433 311h193v1h-193zM272 311h19v1h-19zM434 312h191v1h-191zM272 312h20v2h-20zM435 313h188v1h-188zM436 314h186v1h-186zM271 314h21v2h-21zM437 315h184v1h-184zM136 310h82v7h-82zM438 316h182v1h-182zM439 317h180v1h-180zM441 318h177v1h-177zM270 316h23v4h-23zM732 319h15v1h-15zM446 319h171v1h-171zM456 320h160v1h-160zM716 320h45v1h-45zM466 321h148v1h-148zM712 321h56v1h-56zM476 322h137v1h-137zM269 320h24v4h-24zM490 323h122v1h-122zM707 322h61v3h-61zM510 324h100v1h-100zM269 324h25v2h-25zM525 325h79v1h-79zM535 326h57v1h-57zM136 317h83v11h-83zM708 325h60v3h-60zM546 327h33v1h-33zM136 328h82v1h-82zM556 328h11v1h-11zM709 328h59v3h-59zM136 329h81v2h-81zM270 326h24v6h-24zM136 331h80v1h-80zM710 331h58v1h-58zM759 332h9v1h-9zM271 332h23v1h-23zM711 332h22v1h-22zM136 332h79v1h-79zM763 333h5v1h-5zM711 333h19v1h-19zM136 333h78v1h-78zM271 333h22v2h-22zM136 334h77v1h-77zM714 334h14v1h-14zM765 334h3v2h-3zM720 335h7v1h-7zM136 335h76v1h-76zM272 335h21v2h-21zM136 336h75v1h-75zM136 337h74v1h-74zM274 337h19v1h-19zM275 338h17v1h-17zM136 338h73v1h-73zM276 339h16v1h-16zM145 339h62v1h-62zM277 340h14v1h-14zM162 340h44v1h-44zM279 341h11v1h-11zM179 341h26v1h-26zM197 342h6v1h-6zM280 342h4v1h-4z"/></g>
<path d="M136.0 362.7 L144.0 365.0 L147.5 365.0 L148.0 358.8 L152.0 358.5 L156.4 362.4 L158.7 368.6 L160.8 370.0 L167.9 369.8 L175.8 366.3 L182.9 365.0 L190.9 361.5 L197.0 361.5 L203.3 365.9 L208.6 369.1 L213.9 368.0 L219.2 366.3 L226.3 368.9 L235.0 368.9 L242.2 367.2 L247.5 366.3 L252.8 368.6 L259.9 371.8 L270.5 373.9 L282.9 375.3 L296.0 374.8 L306.6 374.0 L310.2 366.5 L311.8 357.7 L311.4 344.0 L308.6 321.9 L304.8 303.4 L302.5 291.2 L299.5 285.0 L294.9 281.5 L280.3 281.5 L269.6 283.5 L258.9 287.3 L248.2 295.7 L245.2 303.4 L243.5 315.0 L242.9 322.0 L240.6 325.1 L238.5 322.0 L234.5 313.0 L226.7 290.9 L221.2 266.5 L218.0 249.0 L216.0 228.0 L214.3 217.0 L211.0 213.0 L207.0 211.0 L180.0 210.0 L158.0 209.0 L136.0 208.1" fill="none" stroke="#000" stroke-width="1.1" stroke-linejoin="round"/>
<path d="M768.0 208.1 L735.0 208.1 L724.0 209.3 L660.0 209.3 L656.0 208.6 L616.0 209.3 L578.0 209.3 L576.0 208.1 L553.9 208.1 L517.0 211.8 L485.0 216.7 L465.8 224.5 L460.1 230.0 L450.4 237.3 L438.2 244.1 L429.7 245.1 L421.2 239.7 L412.7 234.4 L401.7 232.9 L389.5 234.9 L374.9 239.2 L366.4 244.6 L360.3 254.3 L357.4 259.7 L355.0 254.3 L353.0 248.3 L349.4 247.5 L346.2 254.3 L345.5 273.8 L349.4 288.4 L354.3 299.4 L359.1 302.5 L362.8 301.8 L361.6 295.7 L362.3 291.3 L368.9 293.8 L374.5 296.9 L372.5 312.7 L365.2 332.2 L359.1 346.8 L356.0 355.3 L357.9 357.8 L364.0 350.5 L367.6 348.8 L368.9 356.6 L368.9 371.2 L372.5 377.2 L376.2 378.5 L379.8 376.0 L383.5 363.9 L387.1 354.1 L393.2 348.8 L400.5 348.5 L407.8 351.7 L413.9 360.2 L420.0 368.2 L424.8 368.2 L433.3 363.9 L439.4 363.4 L447.9 366.3 L458.9 371.2 L465.0 367.5 L474.7 369.9 L486.0 368.7 L494.0 366.9 L504.7 362.1 L509.0 364.8 L515.3 371.0 L525.0 372.4 L533.9 374.2 L553.3 374.2 L562.2 371.5 L571.0 369.2 L601.0 369.2 L606.4 367.4 L619.7 367.4 L626.0 370.4 L631.2 371.0 L633.9 364.8 L636.5 361.6 L641.9 361.6 L651.6 366.9 L656.0 366.5 L664.9 362.7 L675.5 363.0 L684.3 359.1 L687.0 363.0 L693.2 368.0 L698.5 371.0 L706.5 371.0 L714.4 366.5 L723.3 364.4 L732.1 363.4 L734.8 365.1 L745.4 364.8 L747.2 363.0 L749.8 365.3 L768.0 365.3" fill="none" stroke="#000" stroke-width="1.1" stroke-linejoin="round"/>
<path d="M217.6 435.5l1.6 -1.6l1.6 1.6l-1.6 1.6zM365.7 435.5l1.0 -1.0l1.0 1.0l-1.0 1.0zM400.1 435.2l1.6 -1.6l1.6 1.6l-1.6 1.6zM675.4 432.4l1.0 -1.0l1.0 1.0l-1.0 1.0zM549.3 428.5l1.2 -1.2l1.2 1.2l-1.2 1.2z" fill="#8c00be"/>
<g fill="#000">
<path d="M135 156h634v318h-634z M137 158v314h630v-314z" fill-rule="evenodd"/>
<path d="M160 158h1v4h-1zM160 469h1v3h-1zM184 158h2v9h-2zM184 463h2v9h-2zM211 158h1v4h-1zM211 469h1v3h-1zM235 158h2v9h-2zM235 463h2v9h-2zM262 158h1v4h-1zM262 469h1v3h-1zM286 158h2v9h-2zM286 463h2v9h-2zM313 158h1v4h-1zM313 469h1v3h-1zM336 158h2v9h-2zM336 463h2v9h-2zM363 158h1v4h-1zM363 469h1v3h-1zM387 158h2v9h-2zM387 463h2v9h-2zM414 158h1v4h-1zM414 469h1v3h-1zM438 158h2v9h-2zM438 463h2v9h-2zM465 158h1v4h-1zM465 469h1v3h-1zM489 158h2v9h-2zM489 463h2v9h-2zM516 158h1v4h-1zM516 469h1v3h-1zM540 158h2v9h-2zM540 463h2v9h-2zM567 158h1v4h-1zM567 469h1v3h-1zM591 158h2v9h-2zM591 463h2v9h-2zM617 158h1v4h-1zM617 469h1v3h-1zM641 158h2v9h-2zM641 463h2v9h-2zM668 158h1v4h-1zM668 469h1v3h-1zM692 158h2v9h-2zM692 463h2v9h-2zM719 158h1v4h-1zM719 469h1v3h-1zM743 158h2v9h-2zM743 463h2v9h-2zM137 459h4v1h-4zM764 459h3v1h-3zM137 443h4v1h-4zM764 443h3v1h-3zM137 427h4v1h-4zM764 427h3v1h-3zM137 411h4v1h-4zM764 411h3v1h-3zM137 394h8v2h-8zM759 394h8v2h-8zM137 379h4v1h-4zM764 379h3v1h-3zM137 363h4v1h-4zM764 363h3v1h-3zM137 347h4v1h-4zM764 347h3v1h-3zM137 331h4v1h-4zM764 331h3v1h-3zM137 314h8v2h-8zM759 314h8v2h-8zM137 299h4v1h-4zM764 299h3v1h-3zM137 283h4v1h-4zM764 283h3v1h-3zM137 267h4v1h-4zM764 267h3v1h-3zM137 251h4v1h-4zM764 251h3v1h-3zM137 234h8v2h-8zM759 234h8v2h-8zM137 219h4v1h-4zM764 219h3v1h-3zM137 203h4v1h-4zM764 203h3v1h-3zM137 187h4v1h-4zM764 187h3v1h-3zM137 171h4v1h-4zM764 171h3v1h-3z"/>
</g>
<rect x="784" y="468" width="18" height="5" fill="#8c00be"/><rect x="784" y="464" width="18" height="4" fill="#6c00b0"/><rect x="784" y="459" width="18" height="5" fill="#4600aa"/><rect x="784" y="455" width="18" height="4" fill="#2800b2"/><rect x="784" y="450" width="18" height="5" fill="#0000b9"/><rect x="784" y="446" width="18" height="4" fill="#0000d0"/><rect x="784" y="441" width="18" height="5" fill="#0000e8"/><rect x="784" y="437" width="18" height="4" fill="#0000ff"/><rect x="784" y="432" width="18" height="5" fill="#0015ff"/><rect x="784" y="428" width="18" height="4" fill="#002aff"/><rect x="784" y="423" width="18" height="5" fill="#0040ff"/><rect x="784" y="419" width="18" height="4" fill="#0055ff"/><rect x="784" y="414" width="18" height="5" fill="#006aff"/><rect x="784" y="410" width="18" height="4" fill="#0080ff"/><rect x="784" y="405" width="18" height="5" fill="#0095ff"/><rect x="784" y="401" width="18" height="4" fill="#00aaff"/><rect x="784" y="396" width="18" height="5" fill="#00bfff"/><rect x="784" y="392" width="18" height="4" fill="#00d4ff"/><rect x="784" y="387" width="18" height="5" fill="#00eaff"/><rect x="784" y="383" width="18" height="4" fill="#00ffff"/><rect x="784" y="378" width="18" height="5" fill="#00fddc"/><rect x="784" y="374" width="18" height="4" fill="#00fbc6"/><rect x="784" y="369" width="18" height="5" fill="#00fab0"/><rect x="784" y="365" width="18" height="4" fill="#00fa9a"/><rect x="784" y="360" width="18" height="5" fill="#00f984"/><rect x="784" y="356" width="18" height="4" fill="#00f766"/><rect x="784" y="351" width="18" height="5" fill="#00f447"/><rect x="784" y="347" width="18" height="4" fill="#00f228"/><rect x="784" y="342" width="18" height="5" fill="#00f00a"/><rect x="784" y="338" width="18" height="4" fill="#14f307"/><rect x="784" y="333" width="18" height="5" fill="#28f703"/><rect x="784" y="328" width="18" height="5" fill="#3cfa00"/><rect x="784" y="324" width="18" height="4" fill="#52fb00"/><rect x="784" y="319" width="18" height="5" fill="#69fb00"/><rect x="784" y="315" width="18" height="4" fill="#80fc00"/><rect x="784" y="310" width="18" height="5" fill="#96fc00"/><rect x="784" y="306" width="18" height="4" fill="#acfd00"/><rect x="784" y="301" width="18" height="5" fill="#c3fe00"/><rect x="784" y="297" width="18" height="4" fill="#dafe00"/><rect x="784" y="292" width="18" height="5" fill="#f0ff00"/><rect x="784" y="288" width="18" height="4" fill="#fffa00"/><rect x="784" y="283" width="18" height="5" fill="#ffe500"/><rect x="784" y="279" width="18" height="4" fill="#ffcf00"/><rect x="784" y="274" width="18" height="5" fill="#ffba00"/><rect x="784" y="270" width="18" height="4" fill="#ffa400"/><rect x="784" y="265" width="18" height="5" fill="#ff8f00"/><rect x="784" y="261" width="18" height="4" fill="#ff7900"/><rect x="784" y="256" width="18" height="5" fill="#ff6400"/><rect x="784" y="252" width="18" height="4" fill="#ff4b00"/><rect x="784" y="247" width="18" height="5" fill="#ff3200"/><rect x="784" y="243" width="18" height="4" fill="#ff1900"/><rect x="784" y="238" width="18" height="5" fill="#ff0000"/><rect x="784" y="234" width="18" height="4" fill="#ff1919"/><rect x="784" y="229" width="18" height="5" fill="#ff2c2c"/><rect x="784" y="225" width="18" height="4" fill="#ff4040"/><rect x="784" y="220" width="18" height="5" fill="#ff5353"/><rect x="784" y="216" width="18" height="4" fill="#ff6666"/><rect x="784" y="211" width="18" height="5" fill="#ff7979"/><rect x="784" y="207" width="18" height="4" fill="#ff8d8d"/><rect x="784" y="202" width="18" height="5" fill="#ffa0a0"/>
<path fill="#000" d="M783 201h20v2h-20zM783 219h20v2h-20zM783 237h20v2h-20zM783 255h20v2h-20zM783 273h20v2h-20zM783 291h20v2h-20zM783 309h20v2h-20zM783 327h20v2h-20zM783 346h20v2h-20zM783 364h20v2h-20zM783 382h20v2h-20zM783 400h20v2h-20zM783 418h20v2h-20zM783 436h20v2h-20zM783 454h20v2h-20zM783 472h20v2h-20zM783 201h2v273h-2z M801 201h2v273h-2z"/>
</svg>
<div class="t" id="title" style="left:335.00px;top:88.90px;font-size:29.00px;letter-spacing:1.10px;word-spacing:8.00px;-webkit-text-stroke:0.60px #fff;">density of cloud</div>
<div class="t" id="xlab" style="left:375.50px;top:526.90px;font-size:23.30px;letter-spacing:0.95px;-webkit-text-stroke:0.20px #fff;">X<span style="display:inline-block;transform:scaleX(2.70);margin:0 5.60px">-</span>coordinate</div>
<div class="t" id="ci" style="left:0;top:576.00px;font-size:20.00px;-webkit-text-stroke:0.35px #000;"><span style="position:absolute;left:304.00px;top:0;transform-origin:0 0;transform:scaleX(0.785);word-spacing:7px;letter-spacing:0.10px">CONTOUR INTERVAL </span><span style="position:absolute;left:480.30px;top:0;transform-origin:0 0;transform:scaleX(1.250);letter-spacing:0.00px">= </span><span style="position:absolute;left:503.00px;top:0;transform-origin:0 0;transform:scaleX(0.970);letter-spacing:0.20px">2.000E<span style="display:inline-block;transform:scaleX(2.20);margin:0 3.30px">-</span>04</span></div>
<div class="t" id="ul" style="left:46.30px;top:491.10px;font-size:18.40px;letter-spacing:1.70px;-webkit-text-stroke:0.50px #000;">(×1000 m)</div>
<div class="t" id="ur" style="left:683.70px;top:501.90px;font-size:18.40px;letter-spacing:1.70px;-webkit-text-stroke:0.50px #000;">(×1000 m)</div>
<div class="t" id="x4" style="left:185.80px;top:479.75px;font-size:18.00px;letter-spacing:0.30px;transform:translateX(-50%) scaleX(1.100);-webkit-text-stroke:0.50px #000;">4</div>
<div class="t" id="x8" style="left:236.62px;top:479.75px;font-size:18.00px;letter-spacing:0.30px;transform:translateX(-50%) scaleX(1.100);-webkit-text-stroke:0.50px #000;">8</div>
<div class="t" id="x12" style="left:287.44px;top:479.75px;font-size:18.00px;letter-spacing:0.30px;transform:translateX(-50%) scaleX(1.100);-webkit-text-stroke:0.50px #000;">12</div>
<div class="t" id="x16" style="left:338.26px;top:479.75px;font-size:18.00px;letter-spacing:0.30px;transform:translateX(-50%) scaleX(1.100);-webkit-text-stroke:0.50px #000;">16</div>
<div class="t" id="x20" style="left:389.08px;top:479.75px;font-size:18.00px;letter-spacing:0.30px;transform:translateX(-50%) scaleX(1.100);-webkit-text-stroke:0.50px #000;">20</div>
<div class="t" id="x24" style="left:439.90px;top:479.75px;font-size:18.00px;letter-spacing:0.30px;transform:translateX(-50%) scaleX(1.100);-webkit-text-stroke:0.50px #000;">24</div>
<div class="t" id="x28" style="left:490.72px;top:479.75px;font-size:18.00px;letter-spacing:0.30px;transform:translateX(-50%) scaleX(1.100);-webkit-text-stroke:0.50px #000;">28</div>
<div class="t" id="x32" style="left:541.54px;top:479.75px;font-size:18.00px;letter-spacing:0.30px;transform:translateX(-50%) scaleX(1.100);-webkit-text-stroke:0.50px #000;">32</div>
<div class="t" id="x36" style="left:592.36px;top:479.75px;font-size:18.00px;letter-spacing:0.30px;transform:translateX(-50%) scaleX(1.100);-webkit-text-stroke:0.50px #000;">36</div>
<div class="t" id="x40" style="left:643.18px;top:479.75px;font-size:18.00px;letter-spacing:0.30px;transform:translateX(-50%) scaleX(1.100);-webkit-text-stroke:0.50px #000;">40</div>
<div class="t" id="x44" style="left:694.00px;top:479.75px;font-size:18.00px;letter-spacing:0.30px;transform:translateX(-50%) scaleX(1.100);-webkit-text-stroke:0.50px #000;">44</div>
<div class="t" id="x48" style="left:744.82px;top:479.75px;font-size:18.00px;letter-spacing:0.30px;transform:translateX(-50%) scaleX(1.100);-webkit-text-stroke:0.50px #000;">48</div>
<div class="t" id="y5" style="right:777.80px;top:384.80px;font-size:19.30px;transform-origin:100% 0;transform:scaleX(1.070);-webkit-text-stroke:0.55px #000;">5</div>
<div class="t" id="y10" style="right:777.80px;top:304.80px;font-size:19.30px;transform-origin:100% 0;transform:scaleX(1.070);-webkit-text-stroke:0.55px #000;">10</div>
<div class="t" id="y15" style="right:777.80px;top:224.80px;font-size:19.30px;transform-origin:100% 0;transform:scaleX(1.070);-webkit-text-stroke:0.55px #000;">15</div>
<div class="t" id="c0" style="left:810.30px;top:464.40px;font-size:16.20px;letter-spacing:-0.20px;transform-origin:0 0;transform:scaleX(1.170);-webkit-text-stroke:0.55px #000;">1e<span style="display:inline-block;transform:scaleX(1.75);margin:0 2.30px">-</span>16</div>
<div class="t" id="c1" style="left:810.30px;top:441.78px;font-size:16.20px;letter-spacing:-0.20px;transform-origin:0 0;transform:scaleX(1.170);-webkit-text-stroke:0.55px #000;">5e<span style="display:inline-block;transform:scaleX(1.75);margin:0 2.30px">-</span>5</div>
<div class="t" id="c2" style="left:810.30px;top:419.15px;font-size:16.20px;letter-spacing:-0.20px;transform-origin:0 0;transform:scaleX(1.170);-webkit-text-stroke:0.55px #000;">1e<span style="display:inline-block;transform:scaleX(1.75);margin:0 2.30px">-</span>4</div>
<div class="t" id="c3" style="left:810.30px;top:396.53px;font-size:16.20px;letter-spacing:-0.20px;transform-origin:0 0;transform:scaleX(1.170);-webkit-text-stroke:0.55px #000;">1.5e<span style="display:inline-block;transform:scaleX(1.75);margin:0 2.30px">-</span>4</div>
<div class="t" id="c4" style="left:810.30px;top:373.90px;font-size:16.20px;letter-spacing:-0.20px;transform-origin:0 0;transform:scaleX(1.170);-webkit-text-stroke:0.55px #000;">2e<span style="display:inline-block;transform:scaleX(1.75);margin:0 2.30px">-</span>4</div>
<div class="t" id="c5" style="left:810.30px;top:351.28px;font-size:16.20px;letter-spacing:-0.20px;transform-origin:0 0;transform:scaleX(1.170);-webkit-text-stroke:0.55px #000;">2.5e<span style="display:inline-block;transform:scaleX(1.75);margin:0 2.30px">-</span>4</div>
<div class="t" id="c6" style="left:810.30px;top:328.65px;font-size:16.20px;letter-spacing:-0.20px;transform-origin:0 0;transform:scaleX(1.170);-webkit-text-stroke:0.55px #000;">3e<span style="display:inline-block;transform:scaleX(1.75);margin:0 2.30px">-</span>4</div>
<div class="t" id="c7" style="left:810.30px;top:306.03px;font-size:16.20px;letter-spacing:-0.20px;transform-origin:0 0;transform:scaleX(1.170);-webkit-text-stroke:0.55px #000;">3.5e<span style="display:inline-block;transform:scaleX(1.75);margin:0 2.30px">-</span>4</div>
<div class="t" id="c8" style="left:810.30px;top:283.40px;font-size:16.20px;letter-spacing:-0.20px;transform-origin:0 0;transform:scaleX(1.170);-webkit-text-stroke:0.55px #000;">4e<span style="display:inline-block;transform:scaleX(1.75);margin:0 2.30px">-</span>4</div>
<div class="t" id="c9" style="left:810.30px;top:260.78px;font-size:16.20px;letter-spacing:-0.20px;transform-origin:0 0;transform:scaleX(1.170);-webkit-text-stroke:0.55px #000;">4.5e<span style="display:inline-block;transform:scaleX(1.75);margin:0 2.30px">-</span>4</div>
<div class="t" id="c10" style="left:810.30px;top:238.15px;font-size:16.20px;letter-spacing:-0.20px;transform-origin:0 0;transform:scaleX(1.170);-webkit-text-stroke:0.55px #000;">5e<span style="display:inline-block;transform:scaleX(1.75);margin:0 2.30px">-</span>4</div>
<div class="t" id="c11" style="left:810.30px;top:215.53px;font-size:16.20px;letter-spacing:-0.20px;transform-origin:0 0;transform:scaleX(1.170);-webkit-text-stroke:0.55px #000;">5.5e<span style="display:inline-block;transform:scaleX(1.75);margin:0 2.30px">-</span>4</div>
<div class="t" id="c12" style="left:810.30px;top:192.90px;font-size:16.20px;letter-spacing:-0.20px;transform-origin:0 0;transform:scaleX(1.170);-webkit-text-stroke:0.55px #000;">6e<span style="display:inline-block;transform:scaleX(1.75);margin:0 2.30px">-</span>4</div>
<div class="t" id="ylab" style="left:83.60px;top:314.00px;font-size:23.30px;letter-spacing:0.95px;transform:translate(-50%,-50%) rotate(-90deg);-webkit-text-stroke:0.20px #fff;">Z<span style="display:inline-block;transform:scaleX(2.70);margin:0 5.60px">-</span>coordinate</div>
</body></html>
